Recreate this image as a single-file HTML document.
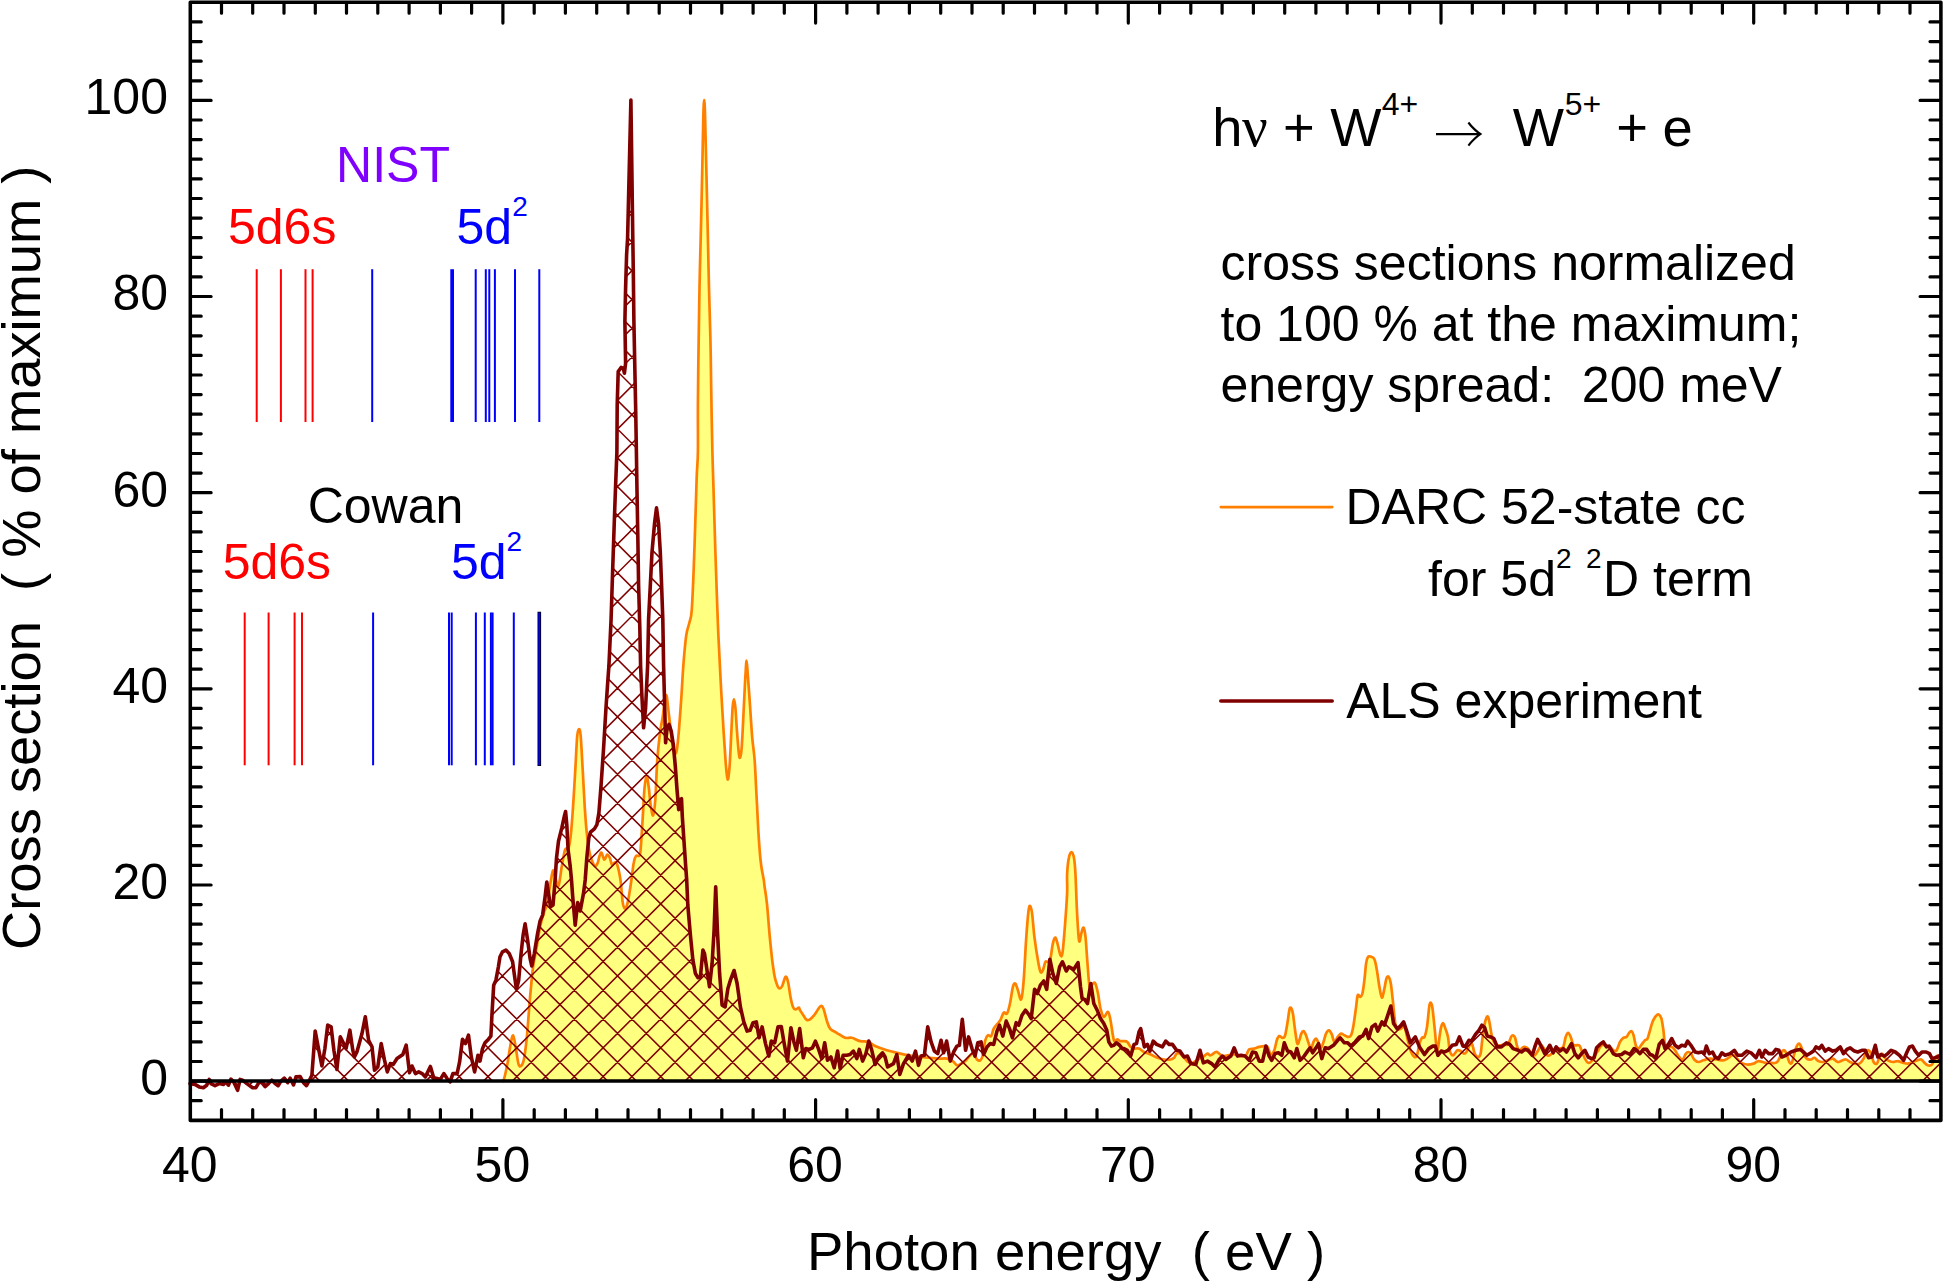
<!DOCTYPE html>
<html><head><meta charset="utf-8"><title>Photoionization cross section</title>
<style>html,body{margin:0;padding:0;background:#fff}svg{display:block}text{font-family:"Liberation Sans",Arial,Helvetica,sans-serif}.sym{font-family:"Liberation Serif","DejaVu Serif",serif}</style></head><body>
<svg width="1943" height="1282" viewBox="0 0 1943 1282">
<rect width="1943" height="1282" fill="#fff"/>
<path d="M503.4 1081.2C503.7 1080.2 504.3 1078.2 505 1075.3C505.7 1072.4 506.6 1068.3 507.5 1063.6C508.4 1058.9 509.2 1051.6 510.1 1046.9C511 1042.2 512.1 1035 513.1 1035.3C514.1 1035.6 515 1043.9 515.9 1048.6C516.8 1053.3 517.6 1060.7 518.4 1063.6C519.2 1066.5 520 1066.6 520.9 1066.1C521.8 1065.5 522.7 1064.9 523.7 1060.3C524.7 1055.7 525.6 1049.2 526.7 1038.6C527.8 1028 529 1008.9 530.1 996.9C531.2 984.9 532.1 974.3 533.1 966.8C534.1 959.3 535 956.8 535.9 951.8C536.8 946.8 537.6 941.5 538.4 936.8C539.2 932.1 539.9 927.6 540.9 923.4C541.9 919.2 543.3 914.8 544.3 911.7C545.3 908.6 546 908.6 546.8 905C547.6 901.4 548.6 894.2 549.3 890C550 885.8 550.4 883.2 551 880C551.6 876.8 552.3 871.1 553 870.5C553.7 869.9 554.2 873.9 555.1 876.4C556 878.9 557.4 887.5 558.5 885.8C559.6 884.1 560.7 872.3 561.8 866.3C562.9 860.3 564 852.6 565.1 849.6C566.2 846.6 567.5 850.8 568.5 848C569.5 845.2 570.2 841 571 832.9C571.8 824.8 572.8 810.7 573.5 799.6C574.2 788.5 574.9 776.8 575.5 766.2C576.1 755.6 576.6 742.3 577.2 736.1C577.8 729.9 578.4 729.1 579 729.1C579.6 729.1 580.1 729.4 580.7 736.1C581.3 742.8 582 757.5 582.7 769.5C583.4 781.5 584.1 797.3 584.8 807.9C585.5 818.5 586 825.7 586.8 832.9C587.5 840.1 588.4 846.7 589.3 851.3C590.1 855.9 590.9 858 591.9 860.5C592.9 863 594.2 865.9 595.2 866.3C596.2 866.7 597 864.7 597.7 863C598.4 861.3 598.8 858 599.4 856.3C600 854.6 600.7 852 601.5 852.6C602.3 853.2 603.4 859.4 604.4 859.7C605.4 860 606.3 854.9 607.2 854.6C608.1 854.3 609.1 856.3 609.9 858C610.7 859.7 611.1 863.9 611.9 864.7C612.6 865.5 613.6 862.9 614.4 862.7C615.2 862.6 615.9 861 616.9 863.8C617.9 866.6 619.4 873 620.4 879.3C621.4 885.6 621.9 896.7 622.6 901.6C623.3 906.5 624 908 624.8 908.5C625.5 909 626.4 907.4 627.1 904.9C627.9 902.4 628.6 898.1 629.3 893.8C630 889.5 630.8 884.5 631.5 879.3C632.2 874.1 633 866.4 633.8 862.5C634.5 858.6 635.1 857.1 636 856C636.9 854.9 638.5 856.7 639.3 855.6C640.1 854.5 640 856.2 640.6 849.6C641.2 843 642.2 826.3 642.8 816.3C643.4 806.3 643.8 796.2 644.4 789.5C645 782.8 645.9 776.8 646.6 776.2C647.3 775.7 647.9 781.5 648.6 786.2C649.3 790.9 649.9 799.7 650.6 804.6C651.4 809.5 652.3 816.2 653.1 815.4C653.9 814.6 654.6 808.9 655.3 799.6C656 790.3 656.5 770.6 657.3 759.5C658.1 748.4 659.1 740 660 732.8C660.9 725.6 662 721.7 662.8 716.1C663.6 710.5 664.4 702.8 665 699.4C665.6 696 666.1 694 666.6 695.7C667.1 697.4 667.7 704.3 668.3 709.4C668.9 714.5 669.5 720 670.3 726.1C671 732.2 671.8 741.7 672.8 746.1C673.8 750.5 675.2 755 676.2 752.8C677.2 750.6 677.9 741.7 678.7 732.8C679.5 723.9 680.4 710.5 681.2 699.4C682 688.3 682.5 676.6 683.3 666C684.1 655.4 685.2 642.9 686.2 635.6C687.2 628.3 688.6 626.5 689.5 622.3C690.4 618.1 691 619.5 691.7 610.6C692.4 601.7 693.1 584.2 693.7 568.9C694.3 553.6 694.9 534.1 695.4 518.8C695.9 503.5 696.3 488.1 696.7 477C697.1 465.9 697.7 464 697.9 452C698.1 440 697.8 423.9 697.9 404.9C698 385.9 698.4 357.7 698.7 338.2C699 318.7 699.2 304.8 699.5 288.1C699.8 271.4 700.2 258.1 700.7 238C701.2 217.9 701.9 187.5 702.3 167.4C702.7 147.3 703 128.7 703.3 117.5C703.6 106.3 703.9 100 704.2 100C704.5 100 704.8 106.3 705.1 117.5C705.5 128.7 705.8 147.3 706.3 167.4C706.8 187.5 707.4 217.9 707.9 238C708.4 258.1 708.6 271.4 709 288.1C709.4 304.8 710 321.5 710.4 338.2C710.8 354.9 710.9 369.3 711.2 388.3C711.5 407.3 712 435.8 712.4 452C712.8 468.2 712.9 468.7 713.4 485.4C713.9 502.1 714.8 532.7 715.4 552.2C716 571.7 716.6 588.4 717.1 602.3C717.6 616.2 717.9 625 718.4 635.6C718.9 646.2 719.4 656.8 719.9 666C720.4 675.2 720.6 679.9 721.2 691C721.8 702.1 723 720.8 723.7 732.8C724.5 744.8 725.1 755 725.7 762.8C726.4 770.6 727 778.9 727.6 779.5C728.2 780.1 729 774 729.6 766.2C730.2 758.4 730.8 742.5 731.3 732.8C731.8 723 732.2 713.3 732.6 707.7C733 702.1 733.4 699.4 733.9 699.4C734.4 699.4 734.9 702.1 735.4 707.7C735.9 713.3 736.5 725.3 737.1 732.8C737.7 740.3 738.3 748.7 738.8 752.8C739.3 756.9 739.6 758.6 740.1 757.5C740.6 756.4 741.2 754.4 741.8 746.1C742.4 737.8 743.2 719.4 743.8 707.7C744.4 696 744.9 683.8 745.4 676C745.9 668.2 746.2 660.7 746.6 660.7C747 660.7 747.4 669.5 747.9 676C748.4 682.5 748.9 689.4 749.6 699.4C750.3 709.4 751.3 726.1 752.1 736.1C752.9 746.1 753.9 750.3 754.6 759.5C755.3 768.7 755.7 780.4 756.3 791.2C756.9 802.1 757.5 814.9 758 824.6C758.5 834.3 759.1 842.7 759.6 849.6C760.1 856.5 760.6 861.2 761.3 866.3C762 871.4 763.2 876.6 763.8 880C764.3 883.4 764 882.5 764.6 886.7C765.2 890.9 766.3 896.9 767.1 905C767.9 913.1 768.8 925.9 769.6 935.1C770.5 944.3 771.4 953.2 772.2 960.1C773.1 967 773.9 972.6 774.7 976.8C775.5 981 776.4 983.2 777.2 985.2C778 987.2 778.9 988.4 779.7 988.5C780.5 988.6 781.2 988 782.2 986C783.2 984 784.5 977.5 785.5 976.8C786.5 976.1 787.2 978.4 788 981.8C788.8 985.1 789.7 992.7 790.5 996.9C791.3 1001.1 792.2 1004.8 793 1006.9C793.8 1009 794.5 1009.3 795.5 1009.4C796.5 1009.5 798.1 1007.6 798.9 1007.7C799.6 1007.8 799.3 1009 800 1010.2C800.7 1011.5 802.2 1013.6 803.3 1015.2C804.4 1016.8 805.6 1019.2 806.7 1019.9C807.8 1020.6 808.8 1020.2 810 1019.4C811.2 1018.6 813 1016.7 814.2 1015.2C815.5 1013.7 816.4 1011.7 817.5 1010.2C818.6 1008.7 819.9 1006.3 820.9 1006C821.9 1005.7 822.4 1006.1 823.4 1008.5C824.4 1010.9 825.6 1016.9 826.7 1020.2C827.8 1023.6 828.4 1026.5 830.1 1028.6C831.8 1030.7 834.2 1031.3 836.7 1032.8C839.2 1034.3 842.6 1037 845.1 1037.8C847.6 1038.6 849.3 1037.2 851.8 1037.8C854.3 1038.3 857.3 1040.4 860.1 1041.1C862.9 1041.8 865.9 1041.1 868.4 1041.9C870.9 1042.7 872 1044.7 875.1 1046.1C878.2 1047.5 883.2 1049.2 886.8 1050.3C890.4 1051.4 893.2 1052 896.8 1052.8C900.4 1053.6 904.6 1054.6 908.5 1055.3C912.4 1056 916.6 1056.6 920.2 1057C923.8 1057.4 927.1 1057.5 930.2 1057.8C933.3 1058.1 935.8 1058.5 938.6 1058.6C941.4 1058.7 944.5 1058.2 946.9 1058.6C949.3 1059 951.1 1060 952.8 1061.1C954.5 1062.2 955.5 1064.9 956.9 1065.3C958.3 1065.7 959.7 1064.3 961.1 1063.6C962.5 1062.9 963.8 1062.5 965.3 1061.1C966.8 1059.7 968.9 1056.5 970.3 1055.3C971.7 1054 972.5 1052.9 973.6 1053.6C974.7 1054.3 975.9 1058.4 977 1059.5C978.1 1060.6 979.3 1061 980.3 1060.3C981.3 1059.6 982 1058.6 982.8 1055.3C983.6 1052 984.5 1043.6 985.3 1040.3C986.1 1037 986.8 1036 987.8 1035.3C988.8 1034.6 990.2 1037.2 991.2 1036.1C992.2 1035 992.7 1030.5 993.7 1028.6C994.7 1026.6 995.9 1025.8 997 1024.4C998.1 1023 999.2 1022.2 1000.3 1020.2C1001.4 1018.2 1002.6 1013.8 1003.7 1012.7C1004.8 1011.6 1006 1015.1 1007 1013.6C1008 1012.1 1009 1008 1010 1003.5C1011 999 1012 990.1 1012.9 986.8C1013.8 983.5 1014.6 982.9 1015.4 983.5C1016.2 984.1 1016.9 987.6 1017.9 990.2C1018.9 992.9 1020.2 1001.1 1021.2 999.4C1022.2 997.7 1022.9 990.4 1023.7 980.2C1024.5 970 1025.4 949.8 1026.2 938.4C1027 927 1027.8 917.1 1028.4 911.7C1029.1 906.3 1029.5 905.6 1030.1 905.9C1030.7 906.2 1031.3 908 1032.1 913.4C1032.8 918.8 1033.6 930.6 1034.6 938.4C1035.6 946.2 1036.9 954.5 1037.9 960.1C1038.9 965.7 1039.6 970.1 1040.4 971.8C1041.2 973.5 1042.1 971.9 1042.9 970.2C1043.7 968.5 1044.6 963.2 1045.4 961.8C1046.2 960.4 1047.1 962.3 1047.9 961.8C1048.7 961.2 1049.6 961.6 1050.4 958.5C1051.2 955.4 1052.1 946.9 1052.9 943.4C1053.7 939.9 1054.6 937.3 1055.4 937.6C1056.2 937.9 1057.1 942.2 1057.9 945.1C1058.7 948 1059.7 953.7 1060.4 955.1C1061.2 956.5 1061.7 957.7 1062.4 953.5C1063.1 949.3 1063.8 940.1 1064.6 930.1C1065.4 920.1 1066.7 902.6 1067.1 893.4C1067.5 884.2 1066.8 880.7 1067.1 874.8C1067.4 868.9 1068 861.9 1068.8 858.1C1069.5 854.3 1070.7 852 1071.6 852C1072.5 852 1073.3 854.3 1074 858.1C1074.7 861.9 1075 865.6 1075.5 874.8C1076 884 1076.5 902.4 1077.1 913.4C1077.7 924.4 1078.4 937.6 1079.1 940.9C1079.8 944.2 1080.6 935.6 1081.3 933.4C1082 931.2 1082.8 927 1083.5 927.6C1084.2 928.2 1084.8 930.8 1085.5 936.8C1086.2 942.8 1086.8 955.2 1087.5 963.5C1088.2 971.8 1088.8 983.3 1089.6 986.8C1090.4 990.3 1091.3 984.9 1092.2 984.3C1093.1 983.7 1094.2 981.7 1095.2 983.2C1096.2 984.7 1097.1 989.3 1098 993.5C1098.9 997.7 1099.5 1004.6 1100.5 1008.5C1101.5 1012.4 1102.5 1016.3 1103.8 1016.9C1105 1017.5 1106.9 1011.3 1108 1011.9C1109.1 1012.5 1109.5 1015.5 1110.5 1020.2C1111.5 1024.9 1112.8 1037.1 1113.9 1040.3C1115 1043.5 1116.1 1039.3 1117.2 1039.4C1118.3 1039.5 1119.4 1040.8 1120.5 1041.1C1121.6 1041.4 1122.9 1041 1124 1041.1C1125.1 1041.2 1126.2 1040.9 1127.3 1041.9C1128.4 1042.9 1129.6 1045.8 1130.7 1046.9C1131.8 1048 1132.6 1048.3 1134 1048.6C1135.4 1048.9 1137.3 1048 1139 1048.6C1140.7 1049.2 1142 1051 1144 1052C1146 1053 1148.5 1053.5 1150.7 1054.5C1152.9 1055.5 1155.2 1057 1157.4 1057.8C1159.6 1058.6 1161.9 1059.2 1164.1 1059.5C1166.3 1059.8 1169 1059.8 1170.7 1059.5C1172.4 1059.2 1173.1 1058.8 1174.1 1057.8C1175.1 1056.8 1175.6 1054.3 1176.6 1053.6C1177.6 1052.9 1178.7 1052.9 1179.9 1053.6C1181.2 1054.3 1182.7 1056.4 1184.1 1057.8C1185.5 1059.2 1186.9 1061.2 1188.3 1062C1189.7 1062.8 1191 1063.1 1192.4 1062.8C1193.8 1062.5 1195.2 1061.1 1196.6 1060.3C1198 1059.5 1199.5 1058.5 1200.8 1057.8C1202 1057.1 1203 1056.8 1204.1 1056.1C1205.2 1055.4 1206.4 1053.7 1207.5 1053.6C1208.6 1053.5 1209.4 1055.6 1210.8 1055.3C1212.2 1055 1214.4 1052.3 1215.8 1052C1217.2 1051.7 1218.1 1052.9 1219.2 1053.6C1220.3 1054.3 1221.1 1055.8 1222.5 1056.1C1223.9 1056.4 1225.5 1055.6 1227.5 1055.3C1229.5 1055 1232 1054.4 1234.2 1054.5C1236.4 1054.6 1239 1056 1240.9 1056.1C1242.9 1056.2 1244.5 1056.4 1245.9 1055.3C1247.3 1054.2 1247.8 1050.5 1249.2 1049.4C1250.6 1048.3 1252.5 1049 1254.2 1048.6C1255.9 1048.2 1257.5 1047.3 1259.2 1046.9C1260.9 1046.5 1262.8 1046.1 1264.2 1046.1C1265.6 1046.1 1266.5 1045.5 1267.6 1046.9C1268.7 1048.3 1269.8 1053.9 1270.9 1054.5C1272 1055.1 1273.3 1052.7 1274.3 1050.3C1275.3 1047.9 1276 1042.7 1276.8 1040.3C1277.6 1037.9 1278.3 1036.5 1279.3 1036.1C1280.3 1035.7 1281.6 1037.9 1282.6 1037.8C1283.6 1037.7 1284.3 1038 1285.1 1035.3C1285.9 1032.6 1286.9 1026.1 1287.6 1021.9C1288.3 1017.7 1288.8 1012.6 1289.3 1010.2C1289.8 1007.8 1290.3 1007.1 1290.9 1007.7C1291.5 1008.3 1292.2 1009.8 1292.9 1013.6C1293.6 1017.4 1294.4 1025.3 1295.1 1030.3C1295.8 1035.3 1296.6 1041.9 1297.3 1043.6C1298 1045.3 1298.6 1042 1299.3 1040.3C1300 1038.6 1300.6 1035.1 1301.3 1033.6C1302 1032.1 1302.7 1030.8 1303.5 1031.1C1304.3 1031.4 1305.2 1033.3 1306 1035.3C1306.8 1037.2 1307.7 1040.6 1308.5 1042.8C1309.3 1045 1310.2 1048.8 1311 1048.6C1311.8 1048.4 1312.7 1043.6 1313.5 1041.9C1314.3 1040.2 1315.2 1038.4 1316 1038.6C1316.8 1038.8 1317.7 1041.3 1318.5 1042.8C1319.3 1044.3 1320.2 1047.9 1321 1047.8C1321.8 1047.7 1322.7 1044.3 1323.5 1041.9C1324.3 1039.5 1325.1 1035.5 1326 1033.6C1326.9 1031.7 1328 1030.2 1329 1030.3C1330 1030.4 1330.9 1032.5 1331.8 1034.4C1332.7 1036.3 1333.4 1041.5 1334.4 1041.9C1335.4 1042.3 1336.6 1038.3 1337.7 1036.9C1338.8 1035.5 1339.9 1033.9 1341 1033.6C1342.1 1033.3 1343.3 1034.8 1344.4 1035.3C1345.5 1035.8 1346.6 1036.9 1347.7 1036.9C1348.8 1036.9 1350 1037.2 1351 1035.3C1352 1033.3 1352.7 1029.9 1353.5 1025.2C1354.3 1020.5 1355.4 1011.9 1356.1 1006.9C1356.8 1001.9 1357 996.9 1357.7 995.2C1358.4 993.5 1359.4 997.2 1360.2 996.9C1361 996.6 1361.7 996.3 1362.4 993.5C1363.1 990.7 1363.8 985.2 1364.4 980.2C1365 975.2 1365.5 967.4 1366.1 963.5C1366.7 959.6 1367.3 957.9 1368.1 956.8C1368.9 955.7 1370 956.4 1371.1 956.8C1372.1 957.2 1373.4 957.1 1374.4 959.3C1375.4 961.5 1376.1 965.6 1376.9 970.2C1377.7 974.8 1378.6 982.2 1379.4 986.8C1380.2 991.4 1381.1 997.4 1381.9 997.7C1382.7 998 1383.7 991.7 1384.4 988.5C1385.2 985.3 1385.7 980.5 1386.4 978.5C1387.1 976.5 1387.9 976 1388.6 976.8C1389.3 977.6 1390.1 979.6 1390.8 983.5C1391.5 987.4 1392 993.5 1392.8 1000.2C1393.5 1006.9 1394.5 1018.7 1395.3 1023.6C1396.1 1028.5 1396.8 1028.6 1397.8 1029.4C1398.8 1030.2 1400 1029 1401.1 1028.6C1402.2 1028.2 1403.4 1025 1404.5 1026.9C1405.6 1028.9 1406.7 1036.1 1407.8 1040.3C1408.9 1044.5 1410 1049.2 1411.1 1052C1412.2 1054.8 1413.5 1056.5 1414.5 1057C1415.5 1057.5 1416.2 1057.5 1417 1055.3C1417.8 1053.1 1418.7 1046.5 1419.5 1043.6C1420.3 1040.7 1421.2 1038.9 1422 1037.8C1422.8 1036.7 1423.7 1038.7 1424.5 1036.9C1425.3 1035.1 1426.2 1031.9 1427 1026.9C1427.8 1021.9 1428.6 1010.9 1429.2 1006.9C1429.8 1002.9 1430.2 1002.4 1430.8 1002.7C1431.3 1003 1431.9 1004.5 1432.5 1008.5C1433.1 1012.5 1433.8 1020.5 1434.5 1026.9C1435.2 1033.3 1435.9 1043.3 1436.5 1046.9C1437.1 1050.5 1437.4 1050.3 1437.9 1048.6C1438.4 1046.9 1439 1040.5 1439.5 1036.9C1440 1033.3 1440.6 1029.2 1441.2 1026.9C1441.8 1024.6 1442.5 1022.9 1443.2 1023.2C1443.9 1023.5 1444.6 1026.3 1445.4 1028.6C1446.2 1030.9 1447.3 1033.3 1448 1036.9C1448.7 1040.5 1448.9 1047.2 1449.7 1050.3C1450.5 1053.4 1451.8 1055.3 1453 1055.3C1454.2 1055.3 1456 1051 1457.2 1050.3C1458.5 1049.6 1459.4 1050.5 1460.5 1051.1C1461.6 1051.6 1462.9 1053.4 1463.9 1053.6C1464.9 1053.8 1465.4 1053.4 1466.4 1052C1467.4 1050.6 1468.7 1046.6 1469.7 1045.3C1470.7 1044 1471.4 1043 1472.2 1044.4C1473 1045.8 1473.7 1051.5 1474.7 1053.6C1475.7 1055.7 1477.1 1057 1478.1 1057C1479.1 1057 1479.9 1056.4 1480.6 1053.6C1481.3 1050.8 1481.6 1045 1482.2 1040.3C1482.8 1035.6 1483.7 1029 1484.4 1025.2C1485.1 1021.4 1485.8 1019.1 1486.4 1017.7C1487 1016.3 1487.5 1015.9 1488.1 1016.9C1488.6 1017.9 1489.1 1020.5 1489.7 1023.6C1490.3 1026.7 1491 1032.2 1491.7 1035.3C1492.4 1038.3 1493 1040.2 1493.9 1041.9C1494.8 1043.6 1496.1 1044.7 1497.2 1045.3C1498.3 1045.9 1499.3 1045.4 1500.6 1045.3C1501.9 1045.2 1503.5 1044.6 1504.8 1044.4C1506 1044.2 1507 1045.7 1508.1 1044.4C1509.1 1043.2 1510.3 1038.4 1511.1 1036.9C1511.9 1035.4 1512.4 1035.2 1513.1 1035.3C1513.8 1035.4 1514.4 1035.9 1515.1 1037.8C1515.8 1039.7 1516.5 1044.8 1517.3 1046.9C1518.1 1049 1519 1050.2 1519.8 1050.3C1520.6 1050.4 1521.5 1048.4 1522.3 1047.8C1523.1 1047.2 1523.8 1046.8 1524.8 1046.9C1525.8 1047 1527 1047.5 1528.1 1048.6C1529.2 1049.7 1530.4 1052.5 1531.5 1053.6C1532.6 1054.7 1533.7 1055.8 1534.8 1055.3C1535.9 1054.8 1537.1 1052 1538.2 1050.3C1539.3 1048.6 1540.2 1045.6 1541.2 1045.3C1542.2 1045 1543 1046.9 1544 1048.6C1545 1050.3 1546.2 1054.3 1547.3 1055.3C1548.4 1056.3 1549.5 1055.3 1550.7 1054.5C1552 1053.7 1553.4 1051.3 1554.8 1050.3C1556.2 1049.3 1557.6 1049.2 1559 1048.6C1560.4 1048 1562.1 1048.9 1563.2 1046.9C1564.3 1045 1564.9 1039.2 1565.7 1036.9C1566.5 1034.6 1567.4 1032.8 1568.2 1032.8C1569 1032.8 1569.9 1035 1570.7 1036.9C1571.5 1038.8 1572.4 1043 1573.2 1044.4C1574 1045.8 1574.7 1045.2 1575.7 1045.3C1576.7 1045.4 1578.1 1044.5 1579.1 1045.3C1580.1 1046.1 1580.6 1048.1 1581.6 1050.3C1582.6 1052.5 1583.8 1056.5 1584.9 1058.6C1586 1060.7 1587.1 1062.4 1588.2 1062.8C1589.3 1063.2 1590.5 1062.3 1591.6 1061.1C1592.7 1059.8 1593.8 1057.1 1594.9 1055.3C1596 1053.5 1597.2 1052 1598.3 1050.3C1599.4 1048.6 1600.3 1046.1 1601.6 1045.3C1602.8 1044.5 1604.4 1045 1605.8 1045.3C1607.2 1045.6 1608.7 1046.1 1609.9 1046.9C1611.2 1047.7 1612.2 1049.7 1613.3 1050.3C1614.4 1050.9 1615.5 1051.7 1616.6 1050.3C1617.7 1048.9 1618.9 1044 1620 1041.9C1621.1 1039.8 1622.2 1038.6 1623.3 1037.8C1624.4 1037 1625.6 1037.7 1626.6 1036.9C1627.6 1036.1 1628.3 1033.8 1629.1 1032.8C1629.9 1031.8 1630.8 1030.7 1631.6 1031.1C1632.3 1031.5 1632.9 1032.9 1633.6 1035.3C1634.3 1037.7 1635 1043.1 1635.8 1045.3C1636.6 1047.5 1637.3 1048.8 1638.3 1048.6C1639.3 1048.4 1640.6 1045.8 1641.7 1044.4C1642.8 1043 1644 1041.3 1645 1040.3C1646 1039.3 1646.7 1040.3 1647.5 1038.6C1648.3 1036.9 1649.2 1033.1 1650 1030.3C1650.8 1027.5 1651.5 1024.3 1652.5 1021.9C1653.5 1019.5 1654.8 1017.4 1655.8 1016.1C1656.8 1014.9 1657.8 1014 1658.7 1014.4C1659.6 1014.8 1660.6 1016 1661.4 1018.6C1662.2 1021.2 1662.8 1026.1 1663.4 1030.3C1664 1034.5 1664.2 1040.8 1665 1043.6C1665.8 1046.4 1667.3 1046.4 1668.4 1046.9C1669.5 1047.5 1670.6 1046.3 1671.7 1046.9C1672.8 1047.5 1673.8 1048.6 1675 1050.3C1676.2 1052 1677.9 1055.5 1679.2 1057C1680.5 1058.5 1681.5 1060.1 1682.6 1059.5C1683.7 1058.9 1684.9 1054.8 1685.9 1053.6C1686.9 1052.3 1687.6 1052 1688.4 1052C1689.2 1052 1689.9 1052.3 1690.9 1053.6C1691.9 1054.8 1693 1058.1 1694.2 1059.5C1695.5 1060.9 1696.9 1061.9 1698.4 1062C1699.9 1062.1 1701.5 1060.9 1703.4 1060.3C1705.4 1059.7 1707.9 1058.7 1710.1 1058.6C1712.3 1058.5 1714.6 1059.2 1716.8 1059.5C1719 1059.8 1721.5 1060.6 1723.5 1060.3C1725.5 1060 1727.1 1058.6 1728.5 1057.8C1729.9 1057 1730.7 1055.6 1731.8 1055.3C1732.9 1055 1733.7 1055 1735.1 1056.1C1736.5 1057.2 1738.2 1060.6 1740.2 1062C1742.2 1063.4 1744.6 1064.2 1746.8 1064.5C1749 1064.8 1751.5 1064.2 1753.5 1063.6C1755.5 1063 1756.5 1061.2 1758.5 1061.1C1760.5 1061 1763.4 1062.5 1765.2 1062.8C1767 1063.1 1767.5 1062.8 1769.3 1062.8C1771.1 1062.8 1774.2 1063.5 1775.9 1062.8C1777.6 1062.1 1778.3 1060.4 1779.3 1058.6C1780.3 1056.8 1781 1053.4 1781.8 1052C1782.6 1050.6 1783.5 1049.9 1784.3 1050.3C1785.1 1050.7 1786 1052.5 1786.8 1054.5C1787.6 1056.5 1788.5 1060.6 1789.3 1062C1790.1 1063.4 1791 1064.2 1791.8 1062.8C1792.6 1061.4 1793.5 1056.4 1794.3 1053.6C1795.1 1050.8 1796 1047.8 1796.8 1046.1C1797.6 1044.4 1798.2 1043.5 1799 1043.6C1799.8 1043.7 1800.5 1045.2 1801.3 1046.9C1802 1048.6 1802.6 1051.6 1803.5 1053.6C1804.4 1055.5 1805.5 1057.6 1806.8 1058.6C1808 1059.6 1809.8 1059.6 1811 1059.5C1812.2 1059.4 1813 1057.5 1814.3 1057.8C1815.5 1058.1 1817.1 1060.4 1818.5 1061.1C1819.9 1061.8 1821.2 1062.1 1822.7 1062C1824.2 1061.9 1826 1060.9 1827.7 1060.3C1829.4 1059.7 1831 1058.3 1832.7 1058.6C1834.4 1058.9 1836 1061.7 1837.7 1062C1839.4 1062.3 1841.3 1060.7 1842.7 1060.3C1844.1 1059.9 1844.8 1059.2 1846 1059.5C1847.2 1059.8 1848.8 1061.3 1850.2 1062C1851.6 1062.7 1852.9 1063.3 1854.4 1063.6C1855.9 1063.9 1857.9 1064.4 1859.4 1063.6C1860.9 1062.8 1862.5 1060.5 1863.6 1058.6C1864.7 1056.7 1865.3 1053.4 1866.1 1052C1866.9 1050.6 1867.8 1050 1868.6 1050.3C1869.4 1050.6 1870.3 1051.6 1871.1 1053.6C1871.9 1055.5 1872.6 1060.3 1873.6 1062C1874.6 1063.7 1875.9 1064.4 1876.9 1063.6C1877.9 1062.8 1878.6 1058.7 1879.4 1057C1880.2 1055.3 1881.1 1053.6 1881.9 1053.6C1882.7 1053.6 1883.4 1055.9 1884.4 1057C1885.4 1058.1 1886.4 1059.5 1887.8 1060.3C1889.2 1061.1 1891.1 1061.9 1892.8 1062C1894.5 1062.1 1896.1 1061 1897.8 1061.1C1899.5 1061.2 1901.1 1062.4 1902.8 1062.8C1904.5 1063.2 1906.1 1063.7 1907.8 1063.6C1909.5 1063.5 1911.1 1062.5 1912.8 1062C1914.5 1061.5 1916.4 1060.7 1917.8 1060.3C1919.2 1059.9 1920.1 1059.1 1921.2 1059.5C1922.3 1059.9 1923.4 1061.8 1924.5 1062.8C1925.6 1063.8 1926.5 1065 1927.8 1065.3C1929 1065.6 1930.7 1065.9 1932 1064.5C1933.3 1063.1 1934.3 1058.5 1935.4 1057C1936.5 1055.5 1938.2 1055.6 1938.7 1055.3L1940.9 1055.3L1940.9 1081.1L503.4 1081.1Z" fill="#ffff80" stroke="none"/>
<path d="M503.4 1081.2C503.7 1080.2 504.3 1078.2 505 1075.3C505.7 1072.4 506.6 1068.3 507.5 1063.6C508.4 1058.9 509.2 1051.6 510.1 1046.9C511 1042.2 512.1 1035 513.1 1035.3C514.1 1035.6 515 1043.9 515.9 1048.6C516.8 1053.3 517.6 1060.7 518.4 1063.6C519.2 1066.5 520 1066.6 520.9 1066.1C521.8 1065.5 522.7 1064.9 523.7 1060.3C524.7 1055.7 525.6 1049.2 526.7 1038.6C527.8 1028 529 1008.9 530.1 996.9C531.2 984.9 532.1 974.3 533.1 966.8C534.1 959.3 535 956.8 535.9 951.8C536.8 946.8 537.6 941.5 538.4 936.8C539.2 932.1 539.9 927.6 540.9 923.4C541.9 919.2 543.3 914.8 544.3 911.7C545.3 908.6 546 908.6 546.8 905C547.6 901.4 548.6 894.2 549.3 890C550 885.8 550.4 883.2 551 880C551.6 876.8 552.3 871.1 553 870.5C553.7 869.9 554.2 873.9 555.1 876.4C556 878.9 557.4 887.5 558.5 885.8C559.6 884.1 560.7 872.3 561.8 866.3C562.9 860.3 564 852.6 565.1 849.6C566.2 846.6 567.5 850.8 568.5 848C569.5 845.2 570.2 841 571 832.9C571.8 824.8 572.8 810.7 573.5 799.6C574.2 788.5 574.9 776.8 575.5 766.2C576.1 755.6 576.6 742.3 577.2 736.1C577.8 729.9 578.4 729.1 579 729.1C579.6 729.1 580.1 729.4 580.7 736.1C581.3 742.8 582 757.5 582.7 769.5C583.4 781.5 584.1 797.3 584.8 807.9C585.5 818.5 586 825.7 586.8 832.9C587.5 840.1 588.4 846.7 589.3 851.3C590.1 855.9 590.9 858 591.9 860.5C592.9 863 594.2 865.9 595.2 866.3C596.2 866.7 597 864.7 597.7 863C598.4 861.3 598.8 858 599.4 856.3C600 854.6 600.7 852 601.5 852.6C602.3 853.2 603.4 859.4 604.4 859.7C605.4 860 606.3 854.9 607.2 854.6C608.1 854.3 609.1 856.3 609.9 858C610.7 859.7 611.1 863.9 611.9 864.7C612.6 865.5 613.6 862.9 614.4 862.7C615.2 862.6 615.9 861 616.9 863.8C617.9 866.6 619.4 873 620.4 879.3C621.4 885.6 621.9 896.7 622.6 901.6C623.3 906.5 624 908 624.8 908.5C625.5 909 626.4 907.4 627.1 904.9C627.9 902.4 628.6 898.1 629.3 893.8C630 889.5 630.8 884.5 631.5 879.3C632.2 874.1 633 866.4 633.8 862.5C634.5 858.6 635.1 857.1 636 856C636.9 854.9 638.5 856.7 639.3 855.6C640.1 854.5 640 856.2 640.6 849.6C641.2 843 642.2 826.3 642.8 816.3C643.4 806.3 643.8 796.2 644.4 789.5C645 782.8 645.9 776.8 646.6 776.2C647.3 775.7 647.9 781.5 648.6 786.2C649.3 790.9 649.9 799.7 650.6 804.6C651.4 809.5 652.3 816.2 653.1 815.4C653.9 814.6 654.6 808.9 655.3 799.6C656 790.3 656.5 770.6 657.3 759.5C658.1 748.4 659.1 740 660 732.8C660.9 725.6 662 721.7 662.8 716.1C663.6 710.5 664.4 702.8 665 699.4C665.6 696 666.1 694 666.6 695.7C667.1 697.4 667.7 704.3 668.3 709.4C668.9 714.5 669.5 720 670.3 726.1C671 732.2 671.8 741.7 672.8 746.1C673.8 750.5 675.2 755 676.2 752.8C677.2 750.6 677.9 741.7 678.7 732.8C679.5 723.9 680.4 710.5 681.2 699.4C682 688.3 682.5 676.6 683.3 666C684.1 655.4 685.2 642.9 686.2 635.6C687.2 628.3 688.6 626.5 689.5 622.3C690.4 618.1 691 619.5 691.7 610.6C692.4 601.7 693.1 584.2 693.7 568.9C694.3 553.6 694.9 534.1 695.4 518.8C695.9 503.5 696.3 488.1 696.7 477C697.1 465.9 697.7 464 697.9 452C698.1 440 697.8 423.9 697.9 404.9C698 385.9 698.4 357.7 698.7 338.2C699 318.7 699.2 304.8 699.5 288.1C699.8 271.4 700.2 258.1 700.7 238C701.2 217.9 701.9 187.5 702.3 167.4C702.7 147.3 703 128.7 703.3 117.5C703.6 106.3 703.9 100 704.2 100C704.5 100 704.8 106.3 705.1 117.5C705.5 128.7 705.8 147.3 706.3 167.4C706.8 187.5 707.4 217.9 707.9 238C708.4 258.1 708.6 271.4 709 288.1C709.4 304.8 710 321.5 710.4 338.2C710.8 354.9 710.9 369.3 711.2 388.3C711.5 407.3 712 435.8 712.4 452C712.8 468.2 712.9 468.7 713.4 485.4C713.9 502.1 714.8 532.7 715.4 552.2C716 571.7 716.6 588.4 717.1 602.3C717.6 616.2 717.9 625 718.4 635.6C718.9 646.2 719.4 656.8 719.9 666C720.4 675.2 720.6 679.9 721.2 691C721.8 702.1 723 720.8 723.7 732.8C724.5 744.8 725.1 755 725.7 762.8C726.4 770.6 727 778.9 727.6 779.5C728.2 780.1 729 774 729.6 766.2C730.2 758.4 730.8 742.5 731.3 732.8C731.8 723 732.2 713.3 732.6 707.7C733 702.1 733.4 699.4 733.9 699.4C734.4 699.4 734.9 702.1 735.4 707.7C735.9 713.3 736.5 725.3 737.1 732.8C737.7 740.3 738.3 748.7 738.8 752.8C739.3 756.9 739.6 758.6 740.1 757.5C740.6 756.4 741.2 754.4 741.8 746.1C742.4 737.8 743.2 719.4 743.8 707.7C744.4 696 744.9 683.8 745.4 676C745.9 668.2 746.2 660.7 746.6 660.7C747 660.7 747.4 669.5 747.9 676C748.4 682.5 748.9 689.4 749.6 699.4C750.3 709.4 751.3 726.1 752.1 736.1C752.9 746.1 753.9 750.3 754.6 759.5C755.3 768.7 755.7 780.4 756.3 791.2C756.9 802.1 757.5 814.9 758 824.6C758.5 834.3 759.1 842.7 759.6 849.6C760.1 856.5 760.6 861.2 761.3 866.3C762 871.4 763.2 876.6 763.8 880C764.3 883.4 764 882.5 764.6 886.7C765.2 890.9 766.3 896.9 767.1 905C767.9 913.1 768.8 925.9 769.6 935.1C770.5 944.3 771.4 953.2 772.2 960.1C773.1 967 773.9 972.6 774.7 976.8C775.5 981 776.4 983.2 777.2 985.2C778 987.2 778.9 988.4 779.7 988.5C780.5 988.6 781.2 988 782.2 986C783.2 984 784.5 977.5 785.5 976.8C786.5 976.1 787.2 978.4 788 981.8C788.8 985.1 789.7 992.7 790.5 996.9C791.3 1001.1 792.2 1004.8 793 1006.9C793.8 1009 794.5 1009.3 795.5 1009.4C796.5 1009.5 798.1 1007.6 798.9 1007.7C799.6 1007.8 799.3 1009 800 1010.2C800.7 1011.5 802.2 1013.6 803.3 1015.2C804.4 1016.8 805.6 1019.2 806.7 1019.9C807.8 1020.6 808.8 1020.2 810 1019.4C811.2 1018.6 813 1016.7 814.2 1015.2C815.5 1013.7 816.4 1011.7 817.5 1010.2C818.6 1008.7 819.9 1006.3 820.9 1006C821.9 1005.7 822.4 1006.1 823.4 1008.5C824.4 1010.9 825.6 1016.9 826.7 1020.2C827.8 1023.6 828.4 1026.5 830.1 1028.6C831.8 1030.7 834.2 1031.3 836.7 1032.8C839.2 1034.3 842.6 1037 845.1 1037.8C847.6 1038.6 849.3 1037.2 851.8 1037.8C854.3 1038.3 857.3 1040.4 860.1 1041.1C862.9 1041.8 865.9 1041.1 868.4 1041.9C870.9 1042.7 872 1044.7 875.1 1046.1C878.2 1047.5 883.2 1049.2 886.8 1050.3C890.4 1051.4 893.2 1052 896.8 1052.8C900.4 1053.6 904.6 1054.6 908.5 1055.3C912.4 1056 916.6 1056.6 920.2 1057C923.8 1057.4 927.1 1057.5 930.2 1057.8C933.3 1058.1 935.8 1058.5 938.6 1058.6C941.4 1058.7 944.5 1058.2 946.9 1058.6C949.3 1059 951.1 1060 952.8 1061.1C954.5 1062.2 955.5 1064.9 956.9 1065.3C958.3 1065.7 959.7 1064.3 961.1 1063.6C962.5 1062.9 963.8 1062.5 965.3 1061.1C966.8 1059.7 968.9 1056.5 970.3 1055.3C971.7 1054 972.5 1052.9 973.6 1053.6C974.7 1054.3 975.9 1058.4 977 1059.5C978.1 1060.6 979.3 1061 980.3 1060.3C981.3 1059.6 982 1058.6 982.8 1055.3C983.6 1052 984.5 1043.6 985.3 1040.3C986.1 1037 986.8 1036 987.8 1035.3C988.8 1034.6 990.2 1037.2 991.2 1036.1C992.2 1035 992.7 1030.5 993.7 1028.6C994.7 1026.6 995.9 1025.8 997 1024.4C998.1 1023 999.2 1022.2 1000.3 1020.2C1001.4 1018.2 1002.6 1013.8 1003.7 1012.7C1004.8 1011.6 1006 1015.1 1007 1013.6C1008 1012.1 1009 1008 1010 1003.5C1011 999 1012 990.1 1012.9 986.8C1013.8 983.5 1014.6 982.9 1015.4 983.5C1016.2 984.1 1016.9 987.6 1017.9 990.2C1018.9 992.9 1020.2 1001.1 1021.2 999.4C1022.2 997.7 1022.9 990.4 1023.7 980.2C1024.5 970 1025.4 949.8 1026.2 938.4C1027 927 1027.8 917.1 1028.4 911.7C1029.1 906.3 1029.5 905.6 1030.1 905.9C1030.7 906.2 1031.3 908 1032.1 913.4C1032.8 918.8 1033.6 930.6 1034.6 938.4C1035.6 946.2 1036.9 954.5 1037.9 960.1C1038.9 965.7 1039.6 970.1 1040.4 971.8C1041.2 973.5 1042.1 971.9 1042.9 970.2C1043.7 968.5 1044.6 963.2 1045.4 961.8C1046.2 960.4 1047.1 962.3 1047.9 961.8C1048.7 961.2 1049.6 961.6 1050.4 958.5C1051.2 955.4 1052.1 946.9 1052.9 943.4C1053.7 939.9 1054.6 937.3 1055.4 937.6C1056.2 937.9 1057.1 942.2 1057.9 945.1C1058.7 948 1059.7 953.7 1060.4 955.1C1061.2 956.5 1061.7 957.7 1062.4 953.5C1063.1 949.3 1063.8 940.1 1064.6 930.1C1065.4 920.1 1066.7 902.6 1067.1 893.4C1067.5 884.2 1066.8 880.7 1067.1 874.8C1067.4 868.9 1068 861.9 1068.8 858.1C1069.5 854.3 1070.7 852 1071.6 852C1072.5 852 1073.3 854.3 1074 858.1C1074.7 861.9 1075 865.6 1075.5 874.8C1076 884 1076.5 902.4 1077.1 913.4C1077.7 924.4 1078.4 937.6 1079.1 940.9C1079.8 944.2 1080.6 935.6 1081.3 933.4C1082 931.2 1082.8 927 1083.5 927.6C1084.2 928.2 1084.8 930.8 1085.5 936.8C1086.2 942.8 1086.8 955.2 1087.5 963.5C1088.2 971.8 1088.8 983.3 1089.6 986.8C1090.4 990.3 1091.3 984.9 1092.2 984.3C1093.1 983.7 1094.2 981.7 1095.2 983.2C1096.2 984.7 1097.1 989.3 1098 993.5C1098.9 997.7 1099.5 1004.6 1100.5 1008.5C1101.5 1012.4 1102.5 1016.3 1103.8 1016.9C1105 1017.5 1106.9 1011.3 1108 1011.9C1109.1 1012.5 1109.5 1015.5 1110.5 1020.2C1111.5 1024.9 1112.8 1037.1 1113.9 1040.3C1115 1043.5 1116.1 1039.3 1117.2 1039.4C1118.3 1039.5 1119.4 1040.8 1120.5 1041.1C1121.6 1041.4 1122.9 1041 1124 1041.1C1125.1 1041.2 1126.2 1040.9 1127.3 1041.9C1128.4 1042.9 1129.6 1045.8 1130.7 1046.9C1131.8 1048 1132.6 1048.3 1134 1048.6C1135.4 1048.9 1137.3 1048 1139 1048.6C1140.7 1049.2 1142 1051 1144 1052C1146 1053 1148.5 1053.5 1150.7 1054.5C1152.9 1055.5 1155.2 1057 1157.4 1057.8C1159.6 1058.6 1161.9 1059.2 1164.1 1059.5C1166.3 1059.8 1169 1059.8 1170.7 1059.5C1172.4 1059.2 1173.1 1058.8 1174.1 1057.8C1175.1 1056.8 1175.6 1054.3 1176.6 1053.6C1177.6 1052.9 1178.7 1052.9 1179.9 1053.6C1181.2 1054.3 1182.7 1056.4 1184.1 1057.8C1185.5 1059.2 1186.9 1061.2 1188.3 1062C1189.7 1062.8 1191 1063.1 1192.4 1062.8C1193.8 1062.5 1195.2 1061.1 1196.6 1060.3C1198 1059.5 1199.5 1058.5 1200.8 1057.8C1202 1057.1 1203 1056.8 1204.1 1056.1C1205.2 1055.4 1206.4 1053.7 1207.5 1053.6C1208.6 1053.5 1209.4 1055.6 1210.8 1055.3C1212.2 1055 1214.4 1052.3 1215.8 1052C1217.2 1051.7 1218.1 1052.9 1219.2 1053.6C1220.3 1054.3 1221.1 1055.8 1222.5 1056.1C1223.9 1056.4 1225.5 1055.6 1227.5 1055.3C1229.5 1055 1232 1054.4 1234.2 1054.5C1236.4 1054.6 1239 1056 1240.9 1056.1C1242.9 1056.2 1244.5 1056.4 1245.9 1055.3C1247.3 1054.2 1247.8 1050.5 1249.2 1049.4C1250.6 1048.3 1252.5 1049 1254.2 1048.6C1255.9 1048.2 1257.5 1047.3 1259.2 1046.9C1260.9 1046.5 1262.8 1046.1 1264.2 1046.1C1265.6 1046.1 1266.5 1045.5 1267.6 1046.9C1268.7 1048.3 1269.8 1053.9 1270.9 1054.5C1272 1055.1 1273.3 1052.7 1274.3 1050.3C1275.3 1047.9 1276 1042.7 1276.8 1040.3C1277.6 1037.9 1278.3 1036.5 1279.3 1036.1C1280.3 1035.7 1281.6 1037.9 1282.6 1037.8C1283.6 1037.7 1284.3 1038 1285.1 1035.3C1285.9 1032.6 1286.9 1026.1 1287.6 1021.9C1288.3 1017.7 1288.8 1012.6 1289.3 1010.2C1289.8 1007.8 1290.3 1007.1 1290.9 1007.7C1291.5 1008.3 1292.2 1009.8 1292.9 1013.6C1293.6 1017.4 1294.4 1025.3 1295.1 1030.3C1295.8 1035.3 1296.6 1041.9 1297.3 1043.6C1298 1045.3 1298.6 1042 1299.3 1040.3C1300 1038.6 1300.6 1035.1 1301.3 1033.6C1302 1032.1 1302.7 1030.8 1303.5 1031.1C1304.3 1031.4 1305.2 1033.3 1306 1035.3C1306.8 1037.2 1307.7 1040.6 1308.5 1042.8C1309.3 1045 1310.2 1048.8 1311 1048.6C1311.8 1048.4 1312.7 1043.6 1313.5 1041.9C1314.3 1040.2 1315.2 1038.4 1316 1038.6C1316.8 1038.8 1317.7 1041.3 1318.5 1042.8C1319.3 1044.3 1320.2 1047.9 1321 1047.8C1321.8 1047.7 1322.7 1044.3 1323.5 1041.9C1324.3 1039.5 1325.1 1035.5 1326 1033.6C1326.9 1031.7 1328 1030.2 1329 1030.3C1330 1030.4 1330.9 1032.5 1331.8 1034.4C1332.7 1036.3 1333.4 1041.5 1334.4 1041.9C1335.4 1042.3 1336.6 1038.3 1337.7 1036.9C1338.8 1035.5 1339.9 1033.9 1341 1033.6C1342.1 1033.3 1343.3 1034.8 1344.4 1035.3C1345.5 1035.8 1346.6 1036.9 1347.7 1036.9C1348.8 1036.9 1350 1037.2 1351 1035.3C1352 1033.3 1352.7 1029.9 1353.5 1025.2C1354.3 1020.5 1355.4 1011.9 1356.1 1006.9C1356.8 1001.9 1357 996.9 1357.7 995.2C1358.4 993.5 1359.4 997.2 1360.2 996.9C1361 996.6 1361.7 996.3 1362.4 993.5C1363.1 990.7 1363.8 985.2 1364.4 980.2C1365 975.2 1365.5 967.4 1366.1 963.5C1366.7 959.6 1367.3 957.9 1368.1 956.8C1368.9 955.7 1370 956.4 1371.1 956.8C1372.1 957.2 1373.4 957.1 1374.4 959.3C1375.4 961.5 1376.1 965.6 1376.9 970.2C1377.7 974.8 1378.6 982.2 1379.4 986.8C1380.2 991.4 1381.1 997.4 1381.9 997.7C1382.7 998 1383.7 991.7 1384.4 988.5C1385.2 985.3 1385.7 980.5 1386.4 978.5C1387.1 976.5 1387.9 976 1388.6 976.8C1389.3 977.6 1390.1 979.6 1390.8 983.5C1391.5 987.4 1392 993.5 1392.8 1000.2C1393.5 1006.9 1394.5 1018.7 1395.3 1023.6C1396.1 1028.5 1396.8 1028.6 1397.8 1029.4C1398.8 1030.2 1400 1029 1401.1 1028.6C1402.2 1028.2 1403.4 1025 1404.5 1026.9C1405.6 1028.9 1406.7 1036.1 1407.8 1040.3C1408.9 1044.5 1410 1049.2 1411.1 1052C1412.2 1054.8 1413.5 1056.5 1414.5 1057C1415.5 1057.5 1416.2 1057.5 1417 1055.3C1417.8 1053.1 1418.7 1046.5 1419.5 1043.6C1420.3 1040.7 1421.2 1038.9 1422 1037.8C1422.8 1036.7 1423.7 1038.7 1424.5 1036.9C1425.3 1035.1 1426.2 1031.9 1427 1026.9C1427.8 1021.9 1428.6 1010.9 1429.2 1006.9C1429.8 1002.9 1430.2 1002.4 1430.8 1002.7C1431.3 1003 1431.9 1004.5 1432.5 1008.5C1433.1 1012.5 1433.8 1020.5 1434.5 1026.9C1435.2 1033.3 1435.9 1043.3 1436.5 1046.9C1437.1 1050.5 1437.4 1050.3 1437.9 1048.6C1438.4 1046.9 1439 1040.5 1439.5 1036.9C1440 1033.3 1440.6 1029.2 1441.2 1026.9C1441.8 1024.6 1442.5 1022.9 1443.2 1023.2C1443.9 1023.5 1444.6 1026.3 1445.4 1028.6C1446.2 1030.9 1447.3 1033.3 1448 1036.9C1448.7 1040.5 1448.9 1047.2 1449.7 1050.3C1450.5 1053.4 1451.8 1055.3 1453 1055.3C1454.2 1055.3 1456 1051 1457.2 1050.3C1458.5 1049.6 1459.4 1050.5 1460.5 1051.1C1461.6 1051.6 1462.9 1053.4 1463.9 1053.6C1464.9 1053.8 1465.4 1053.4 1466.4 1052C1467.4 1050.6 1468.7 1046.6 1469.7 1045.3C1470.7 1044 1471.4 1043 1472.2 1044.4C1473 1045.8 1473.7 1051.5 1474.7 1053.6C1475.7 1055.7 1477.1 1057 1478.1 1057C1479.1 1057 1479.9 1056.4 1480.6 1053.6C1481.3 1050.8 1481.6 1045 1482.2 1040.3C1482.8 1035.6 1483.7 1029 1484.4 1025.2C1485.1 1021.4 1485.8 1019.1 1486.4 1017.7C1487 1016.3 1487.5 1015.9 1488.1 1016.9C1488.6 1017.9 1489.1 1020.5 1489.7 1023.6C1490.3 1026.7 1491 1032.2 1491.7 1035.3C1492.4 1038.3 1493 1040.2 1493.9 1041.9C1494.8 1043.6 1496.1 1044.7 1497.2 1045.3C1498.3 1045.9 1499.3 1045.4 1500.6 1045.3C1501.9 1045.2 1503.5 1044.6 1504.8 1044.4C1506 1044.2 1507 1045.7 1508.1 1044.4C1509.1 1043.2 1510.3 1038.4 1511.1 1036.9C1511.9 1035.4 1512.4 1035.2 1513.1 1035.3C1513.8 1035.4 1514.4 1035.9 1515.1 1037.8C1515.8 1039.7 1516.5 1044.8 1517.3 1046.9C1518.1 1049 1519 1050.2 1519.8 1050.3C1520.6 1050.4 1521.5 1048.4 1522.3 1047.8C1523.1 1047.2 1523.8 1046.8 1524.8 1046.9C1525.8 1047 1527 1047.5 1528.1 1048.6C1529.2 1049.7 1530.4 1052.5 1531.5 1053.6C1532.6 1054.7 1533.7 1055.8 1534.8 1055.3C1535.9 1054.8 1537.1 1052 1538.2 1050.3C1539.3 1048.6 1540.2 1045.6 1541.2 1045.3C1542.2 1045 1543 1046.9 1544 1048.6C1545 1050.3 1546.2 1054.3 1547.3 1055.3C1548.4 1056.3 1549.5 1055.3 1550.7 1054.5C1552 1053.7 1553.4 1051.3 1554.8 1050.3C1556.2 1049.3 1557.6 1049.2 1559 1048.6C1560.4 1048 1562.1 1048.9 1563.2 1046.9C1564.3 1045 1564.9 1039.2 1565.7 1036.9C1566.5 1034.6 1567.4 1032.8 1568.2 1032.8C1569 1032.8 1569.9 1035 1570.7 1036.9C1571.5 1038.8 1572.4 1043 1573.2 1044.4C1574 1045.8 1574.7 1045.2 1575.7 1045.3C1576.7 1045.4 1578.1 1044.5 1579.1 1045.3C1580.1 1046.1 1580.6 1048.1 1581.6 1050.3C1582.6 1052.5 1583.8 1056.5 1584.9 1058.6C1586 1060.7 1587.1 1062.4 1588.2 1062.8C1589.3 1063.2 1590.5 1062.3 1591.6 1061.1C1592.7 1059.8 1593.8 1057.1 1594.9 1055.3C1596 1053.5 1597.2 1052 1598.3 1050.3C1599.4 1048.6 1600.3 1046.1 1601.6 1045.3C1602.8 1044.5 1604.4 1045 1605.8 1045.3C1607.2 1045.6 1608.7 1046.1 1609.9 1046.9C1611.2 1047.7 1612.2 1049.7 1613.3 1050.3C1614.4 1050.9 1615.5 1051.7 1616.6 1050.3C1617.7 1048.9 1618.9 1044 1620 1041.9C1621.1 1039.8 1622.2 1038.6 1623.3 1037.8C1624.4 1037 1625.6 1037.7 1626.6 1036.9C1627.6 1036.1 1628.3 1033.8 1629.1 1032.8C1629.9 1031.8 1630.8 1030.7 1631.6 1031.1C1632.3 1031.5 1632.9 1032.9 1633.6 1035.3C1634.3 1037.7 1635 1043.1 1635.8 1045.3C1636.6 1047.5 1637.3 1048.8 1638.3 1048.6C1639.3 1048.4 1640.6 1045.8 1641.7 1044.4C1642.8 1043 1644 1041.3 1645 1040.3C1646 1039.3 1646.7 1040.3 1647.5 1038.6C1648.3 1036.9 1649.2 1033.1 1650 1030.3C1650.8 1027.5 1651.5 1024.3 1652.5 1021.9C1653.5 1019.5 1654.8 1017.4 1655.8 1016.1C1656.8 1014.9 1657.8 1014 1658.7 1014.4C1659.6 1014.8 1660.6 1016 1661.4 1018.6C1662.2 1021.2 1662.8 1026.1 1663.4 1030.3C1664 1034.5 1664.2 1040.8 1665 1043.6C1665.8 1046.4 1667.3 1046.4 1668.4 1046.9C1669.5 1047.5 1670.6 1046.3 1671.7 1046.9C1672.8 1047.5 1673.8 1048.6 1675 1050.3C1676.2 1052 1677.9 1055.5 1679.2 1057C1680.5 1058.5 1681.5 1060.1 1682.6 1059.5C1683.7 1058.9 1684.9 1054.8 1685.9 1053.6C1686.9 1052.3 1687.6 1052 1688.4 1052C1689.2 1052 1689.9 1052.3 1690.9 1053.6C1691.9 1054.8 1693 1058.1 1694.2 1059.5C1695.5 1060.9 1696.9 1061.9 1698.4 1062C1699.9 1062.1 1701.5 1060.9 1703.4 1060.3C1705.4 1059.7 1707.9 1058.7 1710.1 1058.6C1712.3 1058.5 1714.6 1059.2 1716.8 1059.5C1719 1059.8 1721.5 1060.6 1723.5 1060.3C1725.5 1060 1727.1 1058.6 1728.5 1057.8C1729.9 1057 1730.7 1055.6 1731.8 1055.3C1732.9 1055 1733.7 1055 1735.1 1056.1C1736.5 1057.2 1738.2 1060.6 1740.2 1062C1742.2 1063.4 1744.6 1064.2 1746.8 1064.5C1749 1064.8 1751.5 1064.2 1753.5 1063.6C1755.5 1063 1756.5 1061.2 1758.5 1061.1C1760.5 1061 1763.4 1062.5 1765.2 1062.8C1767 1063.1 1767.5 1062.8 1769.3 1062.8C1771.1 1062.8 1774.2 1063.5 1775.9 1062.8C1777.6 1062.1 1778.3 1060.4 1779.3 1058.6C1780.3 1056.8 1781 1053.4 1781.8 1052C1782.6 1050.6 1783.5 1049.9 1784.3 1050.3C1785.1 1050.7 1786 1052.5 1786.8 1054.5C1787.6 1056.5 1788.5 1060.6 1789.3 1062C1790.1 1063.4 1791 1064.2 1791.8 1062.8C1792.6 1061.4 1793.5 1056.4 1794.3 1053.6C1795.1 1050.8 1796 1047.8 1796.8 1046.1C1797.6 1044.4 1798.2 1043.5 1799 1043.6C1799.8 1043.7 1800.5 1045.2 1801.3 1046.9C1802 1048.6 1802.6 1051.6 1803.5 1053.6C1804.4 1055.5 1805.5 1057.6 1806.8 1058.6C1808 1059.6 1809.8 1059.6 1811 1059.5C1812.2 1059.4 1813 1057.5 1814.3 1057.8C1815.5 1058.1 1817.1 1060.4 1818.5 1061.1C1819.9 1061.8 1821.2 1062.1 1822.7 1062C1824.2 1061.9 1826 1060.9 1827.7 1060.3C1829.4 1059.7 1831 1058.3 1832.7 1058.6C1834.4 1058.9 1836 1061.7 1837.7 1062C1839.4 1062.3 1841.3 1060.7 1842.7 1060.3C1844.1 1059.9 1844.8 1059.2 1846 1059.5C1847.2 1059.8 1848.8 1061.3 1850.2 1062C1851.6 1062.7 1852.9 1063.3 1854.4 1063.6C1855.9 1063.9 1857.9 1064.4 1859.4 1063.6C1860.9 1062.8 1862.5 1060.5 1863.6 1058.6C1864.7 1056.7 1865.3 1053.4 1866.1 1052C1866.9 1050.6 1867.8 1050 1868.6 1050.3C1869.4 1050.6 1870.3 1051.6 1871.1 1053.6C1871.9 1055.5 1872.6 1060.3 1873.6 1062C1874.6 1063.7 1875.9 1064.4 1876.9 1063.6C1877.9 1062.8 1878.6 1058.7 1879.4 1057C1880.2 1055.3 1881.1 1053.6 1881.9 1053.6C1882.7 1053.6 1883.4 1055.9 1884.4 1057C1885.4 1058.1 1886.4 1059.5 1887.8 1060.3C1889.2 1061.1 1891.1 1061.9 1892.8 1062C1894.5 1062.1 1896.1 1061 1897.8 1061.1C1899.5 1061.2 1901.1 1062.4 1902.8 1062.8C1904.5 1063.2 1906.1 1063.7 1907.8 1063.6C1909.5 1063.5 1911.1 1062.5 1912.8 1062C1914.5 1061.5 1916.4 1060.7 1917.8 1060.3C1919.2 1059.9 1920.1 1059.1 1921.2 1059.5C1922.3 1059.9 1923.4 1061.8 1924.5 1062.8C1925.6 1063.8 1926.5 1065 1927.8 1065.3C1929 1065.6 1930.7 1065.9 1932 1064.5C1933.3 1063.1 1934.3 1058.5 1935.4 1057C1936.5 1055.5 1938.2 1055.6 1938.7 1055.3" fill="none" stroke="#ff8000" stroke-width="2.7" stroke-linejoin="round" stroke-linecap="round"/>
<defs><clipPath id="ac"><path d="M190 1083.6L195 1084.4L199.2 1086.9L203.4 1087.7L206.7 1085.2L209.2 1079.4L210.9 1083.6L215 1085.6L219.2 1083.6L223.4 1084.4L225.9 1081.9L228.4 1085.2L230.9 1079.1L233.7 1081.9L237.6 1090.3L240.1 1079.4L242.6 1080.2L246.8 1083.6L252.6 1087.7L255.9 1087.7L259.3 1081.9L261.8 1082.7L265.1 1086.6L268.5 1083.6L271.8 1080.2L275.1 1083.6L278.1 1085.7L281 1081.1L284.3 1078.2L287.7 1082.7L290.2 1078.2L293.5 1084.9L296 1076.9L300.2 1076.6L303.5 1082.7L306.5 1085.6L309.4 1080.2L311.9 1075.2L315.2 1031L318.5 1048.5L321.9 1066L324.9 1048.5L327.7 1025.1L331.1 1026.8L333.9 1050.2L336.9 1069.4L340.3 1036.8L342.8 1041.8L346.1 1048.5L349.9 1030.2L352.8 1050.2L354.4 1056.9L356.9 1051.9L362 1033.5L365.3 1016.8L368.6 1040.2L372 1046.8L374.5 1070.2L377.8 1066.9L381.2 1043.5L384.5 1060.2L387.3 1071.9L390.3 1063.5L393.3 1064.4L397 1058.5L402.9 1054.4L406.2 1045.2L409.5 1072.7L412 1066L415.4 1073.6L418.7 1071.9L422.1 1073.6L425.4 1076.9L430.4 1066.5L433.7 1077.7L437.1 1078.6L440.4 1079.4L443.8 1073.6L447.1 1078.6L450.1 1081.9L452.9 1073.6L457.1 1073.6L459.6 1061.9L462.5 1039.3L465.5 1043.5L468.5 1035.2L471.3 1056.9L474.6 1071.9L478 1055.2L480 1061.1L482.5 1048.6L485 1042.8L488.3 1039.4L490.9 1036.1L492 1013.6L493.7 985.2L495.9 980.2L498.4 966.8L500 956.8L502.5 951.8L505.9 950.1L509.2 953.5L512.6 961.8L514.2 973.5L516.4 989.3L518.7 980.2L520.9 955.1L523.1 935.1L525.1 923.7L527.6 940.1L530.1 958.5L531.8 966L534.3 953.5L537.6 933.4L540.1 920.9L542.6 915.1L545.1 896.7L546.8 882L548.8 895L550.5 906.7L553 905L554.3 890L555.1 880L556.5 858L558.5 841.3L561.8 827.9L564.3 816.3L565.6 811.6L566.8 824.6L568.1 849.6L570.2 866.3L571.5 880L572.7 896.7L575.2 925.1L577.7 902.5L580.2 910.9L583.5 893.4L585.2 880L586.8 858L588.8 838L590.5 832.1L594.4 828.8L596.9 824.6L598.9 812.9L601 786.2L603.5 749.5L606 707.7L607.7 682.7L608.9 666L611.1 618.9L612.7 568.9L614.4 518.8L615.6 485.4L616.9 452L617.2 404.9L618.2 371.6L621.1 367.4L623.2 368.2L624.4 373.2L625.6 363.2L624.9 321.5L625.6 288.1L626.6 254.7L627.6 238L630.9 100L632.8 238L633.3 271.4L633.9 321.5L634.9 371.6L635.6 404.9L636.4 452L636.9 485.4L637.8 535.5L638.6 585.6L639.8 627.3L640.6 666L641.9 696.1L643.6 727.8L645.6 707.7L647.6 666L648.6 618.9L650.3 585.6L652 552.2L654.5 523.8L656.5 507.9L658.6 523.8L660.3 552.2L661.6 585.6L662.8 618.9L663.6 666L664.5 699.4L665.6 742.8L667 729.4L669 724.4L671.2 731.1L673.3 744.5L675.3 766.2L677 789.5L678.7 809.6L680 799.6L681.5 798.7L682.3 816.3L684 841.3L685.7 866.3L686.7 880L687.8 905L690.4 935.1L692.9 960.1L695.4 973.5L697.9 977.7L700.4 976.8L702.9 950.1L704.5 953.5L707 970.2L709.5 986.8L712.1 963.5L714.1 930.1L715.7 886.7L717.4 930.1L719.6 973.5L722.1 1005.2L725.1 1006.9L727.9 988.5L730.4 980.2L734.1 970.5L737.1 983.5L740.4 1006.9L743.8 1021.9L747.1 1031.1L750.1 1030.3L753 1022.7L756.3 1021.9L759.1 1037.8L762.1 1026.9L765.5 1043.6L768.8 1056.1L771.3 1041.1L774.7 1042.8L778 1026.9L781.3 1026.6L784.2 1043.6L787.5 1061.1L790.9 1027.7L793.9 1041.9L796.4 1050.3L799.7 1028.6L803.3 1057.8L805.8 1048.6L809.2 1049.4L812.5 1047.8L815.4 1041.1L818.4 1048.6L821.7 1058.6L824.7 1042.8L827.5 1060.3L830.9 1057L834.2 1067.8L837.6 1051.1L840.1 1068.6L843.1 1055.3L846.7 1055.3L850.1 1054.5L853.4 1051.1L856.8 1058.6L859.3 1049.4L862.6 1061.1L865.9 1053.6L868.8 1041.1L871.8 1050.3L875.1 1064.5L878.5 1057L882.6 1052.8L885.1 1057L887.6 1067L893.5 1063.6L896.8 1054.5L899.8 1074.5L903.5 1063.6L908.5 1055.3L912.2 1061.1L915.5 1051.1L918.5 1065.3L921 1056.1L924.4 1055.3L927.7 1026.9L931.1 1041.9L934.4 1051.1L937.7 1053.6L941.1 1040.3L943.6 1052.8L946.6 1041.1L950.3 1061.1L953.6 1052L956.9 1046.1L959.4 1045.3L962.3 1019.4L965.6 1050.3L968.6 1036.9L972 1048.6L975 1056.1L977.8 1042.8L981.1 1041.9L983.6 1054.5L987 1046.9L990.3 1043.6L993.7 1044.4L997 1031.1L999.5 1025.2L1002.8 1036.1L1006.2 1021.1L1009.5 1028.6L1012.4 1037.8L1016.2 1022.7L1018.7 1025.2L1022 1015.2L1025.4 1010.2L1028.7 1014.4L1031.2 1018.6L1034.6 989.3L1037.4 993.5L1040.4 985.2L1043.7 981L1046.7 989.3L1049.9 959.3L1052.9 973.5L1056.3 983.5L1059.6 966.8L1062.4 961.8L1066.3 971L1068.8 966.8L1073.8 969.3L1078 962.6L1080.5 986.8L1082.1 998.5L1084.6 999.4L1087.5 1003.5L1090.8 983.5L1093.8 1003.5L1097.2 1010.2L1100.5 1018.6L1103.8 1023.6L1106.8 1030.3L1108.8 1041.9L1111.4 1046.1L1113.9 1045.3L1116.4 1042.8L1119.7 1045.3L1122.2 1048.6L1124 1048.6L1127.3 1050.3L1130.7 1056.1L1134 1044.4L1136.5 1043.6L1139 1031.9L1140.7 1028.6L1142.7 1038.6L1144.4 1046.9L1147.4 1044.4L1149.9 1051.1L1153.2 1041.1L1156.6 1044.4L1162.4 1046.9L1165.7 1041.1L1169.1 1044.4L1172.4 1044.4L1176.6 1050.3L1179.9 1051.1L1184.1 1057L1187.4 1056.1L1190.8 1063.6L1195.8 1064.5L1200 1050.3L1203.3 1062.8L1207.5 1061.1L1211.6 1063.6L1215 1067L1219.2 1059.5L1222.5 1056.1L1225.8 1059.5L1230.8 1056.1L1234.2 1047.8L1237.5 1056.1L1240.9 1055.3L1245 1056.1L1249.2 1060.3L1252.5 1052L1255.9 1052.8L1259.2 1061.1L1262.6 1061.1L1265.9 1046.1L1269.2 1056.1L1271.7 1060.3L1275.1 1053.6L1278.4 1052.8L1281.8 1055.3L1284.3 1042.8L1287.6 1051.1L1290.9 1052L1294.3 1057.8L1296.8 1048.6L1300.1 1060.3L1303.5 1057L1307.6 1051.1L1310.1 1047.8L1312.6 1052.8L1316 1047.8L1318.5 1043.6L1321.8 1058.6L1325.2 1047.8L1328.5 1048.6L1333.5 1045.3L1337.7 1040.3L1340.2 1037.8L1344.4 1042.8L1347.7 1042.8L1351 1046.1L1355.2 1041.9L1359.4 1036.9L1362.7 1036.1L1366.1 1029.4L1368.6 1038.6L1371.9 1026.9L1375.3 1024.4L1377.8 1031.1L1381.9 1021.9L1384.4 1025.2L1387.8 1015.2L1390.8 1006L1393.6 1023.6L1397 1028.6L1400.3 1026.1L1403.6 1021.9L1407 1031.9L1410.3 1042.8L1415.3 1036.9L1419.5 1046.9L1424.5 1054.5L1428.7 1048.6L1432.8 1046.1L1435.4 1046.1L1437.9 1055.3L1441.2 1051.1L1444.5 1052L1448 1050.3L1452.2 1045.3L1456.3 1044.4L1459.4 1036.9L1463 1046.1L1465.5 1046.1L1468.9 1040.3L1471.4 1041.1L1475.5 1034.4L1478.9 1030.3L1481.9 1025.2L1484.7 1027.7L1487.2 1036.1L1490.6 1036.9L1493.9 1038.6L1497.2 1046.9L1501.4 1046.9L1506.4 1042.8L1509.8 1044.4L1513.1 1048.6L1518.1 1050.3L1521.5 1052L1524.8 1049.4L1528.1 1050.3L1532.3 1055.3L1534.8 1046.9L1537.6 1039.4L1540.7 1045.3L1544.8 1053.6L1549.8 1045.3L1553.2 1052.8L1556.2 1046.9L1559.9 1051.1L1563.2 1048.6L1566.5 1052L1571.5 1043.6L1574.9 1053.6L1578.2 1057.8L1581.6 1053.6L1584.9 1050.3L1588.2 1057L1591.6 1058.6L1594.1 1057.8L1596.6 1047.8L1599.9 1044.4L1603.3 1041.9L1606.6 1046.9L1609.1 1046.1L1613.3 1053.6L1616.6 1055.3L1621.6 1054.5L1625 1052L1630 1054.5L1634.1 1048.6L1636.6 1050.3L1640 1053.6L1643.3 1049.4L1646.7 1049.4L1650 1054.5L1652.5 1055.3L1655.8 1058.6L1659.2 1044.4L1662.5 1040.3L1665 1048.6L1668.4 1044.4L1671.7 1038.6L1675 1045.3L1678.4 1047.8L1681.7 1045.3L1685.1 1046.1L1687.6 1041.1L1690.9 1045.3L1695.1 1052L1698.4 1052.8L1701.8 1052L1704.3 1053.6L1706.4 1046.1L1709.3 1053.6L1712.6 1052L1715.1 1057L1718.5 1058.6L1721.8 1052.8L1725.1 1055.3L1730.1 1053.6L1734.3 1050.3L1737.6 1055.3L1741.8 1055.3L1746.8 1051.1L1751 1052.8L1756 1057.8L1759.4 1050.3L1761.9 1057L1765.2 1050.3L1768.5 1053.6L1772.6 1053.6L1775.9 1049.4L1778.9 1050.3L1781.8 1057L1785.9 1055.3L1791 1052L1796 1050.3L1800.1 1049.4L1803.5 1052L1806.8 1055.3L1811 1052.8L1813.5 1051.1L1816 1046.9L1819.3 1048.6L1821.8 1045.3L1825.2 1051.1L1828.5 1048.6L1832.7 1051.1L1836 1050.3L1840.2 1046.9L1843.5 1053.6L1846.9 1049.4L1850.2 1047.8L1854.4 1051.1L1857.7 1052L1861.9 1050.3L1865.2 1050.3L1868.6 1057.8L1871.9 1057L1875.3 1045.3L1877.8 1057L1881.1 1054.5L1884.4 1056.1L1887.8 1053.6L1891.1 1050.3L1895.3 1052L1899.5 1055.3L1903.6 1060.3L1907 1052L1909.5 1046.9L1912.5 1046.1L1915.3 1051.1L1918.7 1055.3L1922 1052L1926.2 1052L1929.5 1053.6L1932 1058.6L1935.4 1057.8L1938.7 1056.1L1940.9 1056.1L1940.9 1081.1L190 1081.1Z"/></clipPath><clipPath id="pc"><rect x="190.3" y="2.2" width="1750.6" height="1118.2"/></clipPath></defs>
<g clip-path="url(#pc)"><path clip-path="url(#ac)" d="M-1047.3 1086.6L-50.7 90M-1027.3 1086.6L-2023.9 90M-1018.6 1086.6L-22 90M-998.6 1086.6L-1995.2 90M-989.8 1086.6L6.8 90M-969.8 1086.6L-1966.4 90M-961 1086.6L35.6 90M-941 1086.6L-1937.6 90M-932.2 1086.6L64.4 90M-912.2 1086.6L-1908.8 90M-903.4 1086.6L93.2 90M-883.4 1086.6L-1880 90M-874.7 1086.6L121.9 90M-854.7 1086.6L-1851.3 90M-845.9 1086.6L150.7 90M-825.9 1086.6L-1822.5 90M-817.1 1086.6L179.5 90M-797.1 1086.6L-1793.7 90M-788.3 1086.6L208.3 90M-768.3 1086.6L-1764.9 90M-759.5 1086.6L237.1 90M-739.5 1086.6L-1736.1 90M-730.8 1086.6L265.8 90M-710.8 1086.6L-1707.4 90M-702 1086.6L294.6 90M-682 1086.6L-1678.6 90M-673.2 1086.6L323.4 90M-653.2 1086.6L-1649.8 90M-644.4 1086.6L352.2 90M-624.4 1086.6L-1621 90M-615.6 1086.6L381 90M-595.6 1086.6L-1592.2 90M-586.9 1086.6L409.7 90M-566.9 1086.6L-1563.5 90M-558.1 1086.6L438.5 90M-538.1 1086.6L-1534.7 90M-529.3 1086.6L467.3 90M-509.3 1086.6L-1505.9 90M-500.5 1086.6L496.1 90M-480.5 1086.6L-1477.1 90M-471.7 1086.6L524.9 90M-451.7 1086.6L-1448.3 90M-443 1086.6L553.6 90M-423 1086.6L-1419.6 90M-414.2 1086.6L582.4 90M-394.2 1086.6L-1390.8 90M-385.4 1086.6L611.2 90M-365.4 1086.6L-1362 90M-356.6 1086.6L640 90M-336.6 1086.6L-1333.2 90M-327.8 1086.6L668.8 90M-307.8 1086.6L-1304.4 90M-299.1 1086.6L697.5 90M-279.1 1086.6L-1275.7 90M-270.3 1086.6L726.3 90M-250.3 1086.6L-1246.9 90M-241.5 1086.6L755.1 90M-221.5 1086.6L-1218.1 90M-212.7 1086.6L783.9 90M-192.7 1086.6L-1189.3 90M-183.9 1086.6L812.7 90M-163.9 1086.6L-1160.5 90M-155.2 1086.6L841.4 90M-135.2 1086.6L-1131.8 90M-126.4 1086.6L870.2 90M-106.4 1086.6L-1103 90M-97.6 1086.6L899 90M-77.6 1086.6L-1074.2 90M-68.8 1086.6L927.8 90M-48.8 1086.6L-1045.4 90M-40 1086.6L956.6 90M-20 1086.6L-1016.6 90M-11.3 1086.6L985.3 90M8.7 1086.6L-987.9 90M17.5 1086.6L1014.1 90M37.5 1086.6L-959.1 90M46.3 1086.6L1042.9 90M66.3 1086.6L-930.3 90M75.1 1086.6L1071.7 90M95.1 1086.6L-901.5 90M103.9 1086.6L1100.5 90M123.9 1086.6L-872.7 90M132.6 1086.6L1129.2 90M152.6 1086.6L-844 90M161.4 1086.6L1158 90M181.4 1086.6L-815.2 90M190.2 1086.6L1186.8 90M210.2 1086.6L-786.4 90M219 1086.6L1215.6 90M239 1086.6L-757.6 90M247.8 1086.6L1244.4 90M267.8 1086.6L-728.8 90M276.5 1086.6L1273.1 90M296.5 1086.6L-700.1 90M305.3 1086.6L1301.9 90M325.3 1086.6L-671.3 90M334.1 1086.6L1330.7 90M354.1 1086.6L-642.5 90M362.9 1086.6L1359.5 90M382.9 1086.6L-613.7 90M391.7 1086.6L1388.3 90M411.7 1086.6L-584.9 90M420.4 1086.6L1417 90M440.4 1086.6L-556.2 90M449.2 1086.6L1445.8 90M469.2 1086.6L-527.4 90M478 1086.6L1474.6 90M498 1086.6L-498.6 90M506.8 1086.6L1503.4 90M526.8 1086.6L-469.8 90M535.6 1086.6L1532.2 90M555.6 1086.6L-441 90M564.3 1086.6L1560.9 90M584.3 1086.6L-412.3 90M593.1 1086.6L1589.7 90M613.1 1086.6L-383.5 90M621.9 1086.6L1618.5 90M641.9 1086.6L-354.7 90M650.7 1086.6L1647.3 90M670.7 1086.6L-325.9 90M679.5 1086.6L1676.1 90M699.5 1086.6L-297.1 90M708.2 1086.6L1704.8 90M728.2 1086.6L-268.4 90M737 1086.6L1733.6 90M757 1086.6L-239.6 90M765.8 1086.6L1762.4 90M785.8 1086.6L-210.8 90M794.6 1086.6L1791.2 90M814.6 1086.6L-182 90M823.4 1086.6L1820 90M843.4 1086.6L-153.2 90M852.1 1086.6L1848.7 90M872.1 1086.6L-124.5 90M880.9 1086.6L1877.5 90M900.9 1086.6L-95.7 90M909.7 1086.6L1906.3 90M929.7 1086.6L-66.9 90M938.5 1086.6L1935.1 90M958.5 1086.6L-38.1 90M967.3 1086.6L1963.9 90M987.3 1086.6L-9.3 90M996 1086.6L1992.6 90M1016 1086.6L19.4 90M1024.8 1086.6L2021.4 90M1044.8 1086.6L48.2 90M1053.6 1086.6L2050.2 90M1073.6 1086.6L77 90M1082.4 1086.6L2079 90M1102.4 1086.6L105.8 90M1111.2 1086.6L2107.8 90M1131.2 1086.6L134.6 90M1139.9 1086.6L2136.5 90M1159.9 1086.6L163.3 90M1168.7 1086.6L2165.3 90M1188.7 1086.6L192.1 90M1197.5 1086.6L2194.1 90M1217.5 1086.6L220.9 90M1226.3 1086.6L2222.9 90M1246.3 1086.6L249.7 90M1255.1 1086.6L2251.7 90M1275.1 1086.6L278.5 90M1283.8 1086.6L2280.4 90M1303.8 1086.6L307.2 90M1312.6 1086.6L2309.2 90M1332.6 1086.6L336 90M1341.4 1086.6L2338 90M1361.4 1086.6L364.8 90M1370.2 1086.6L2366.8 90M1390.2 1086.6L393.6 90M1399 1086.6L2395.6 90M1419 1086.6L422.4 90M1427.7 1086.6L2424.3 90M1447.7 1086.6L451.1 90M1456.5 1086.6L2453.1 90M1476.5 1086.6L479.9 90M1485.3 1086.6L2481.9 90M1505.3 1086.6L508.7 90M1514.1 1086.6L2510.7 90M1534.1 1086.6L537.5 90M1542.9 1086.6L2539.5 90M1562.9 1086.6L566.3 90M1571.6 1086.6L2568.2 90M1591.6 1086.6L595 90M1600.4 1086.6L2597 90M1620.4 1086.6L623.8 90M1629.2 1086.6L2625.8 90M1649.2 1086.6L652.6 90M1658 1086.6L2654.6 90M1678 1086.6L681.4 90M1686.8 1086.6L2683.4 90M1706.8 1086.6L710.2 90M1715.5 1086.6L2712.1 90M1735.5 1086.6L738.9 90M1744.3 1086.6L2740.9 90M1764.3 1086.6L767.7 90M1773.1 1086.6L2769.7 90M1793.1 1086.6L796.5 90M1801.9 1086.6L2798.5 90M1821.9 1086.6L825.3 90M1830.7 1086.6L2827.3 90M1850.7 1086.6L854.1 90M1859.4 1086.6L2856 90M1879.4 1086.6L882.8 90M1888.2 1086.6L2884.8 90M1908.2 1086.6L911.6 90M1917 1086.6L2913.6 90M1937 1086.6L940.4 90M1945.8 1086.6L2942.4 90M1965.8 1086.6L969.2 90M1974.6 1086.6L2971.2 90M1994.6 1086.6L998 90M2003.3 1086.6L2999.9 90M2023.3 1086.6L1026.7 90M2032.1 1086.6L3028.7 90M2052.1 1086.6L1055.5 90M2060.9 1086.6L3057.5 90M2080.9 1086.6L1084.3 90M2089.7 1086.6L3086.3 90M2109.7 1086.6L1113.1 90M2118.5 1086.6L3115.1 90M2138.5 1086.6L1141.9 90M2147.2 1086.6L3143.8 90M2167.2 1086.6L1170.6 90M2176 1086.6L3172.6 90M2196 1086.6L1199.4 90M2204.8 1086.6L3201.4 90M2224.8 1086.6L1228.2 90M2233.6 1086.6L3230.2 90M2253.6 1086.6L1257 90M2262.4 1086.6L3259 90M2282.4 1086.6L1285.8 90M2291.1 1086.6L3287.7 90M2311.1 1086.6L1314.5 90M2319.9 1086.6L3316.5 90M2339.9 1086.6L1343.3 90M2348.7 1086.6L3345.3 90M2368.7 1086.6L1372.1 90M2377.5 1086.6L3374.1 90M2397.5 1086.6L1400.9 90M2406.3 1086.6L3402.9 90M2426.3 1086.6L1429.7 90M2435 1086.6L3431.6 90M2455 1086.6L1458.4 90M2463.8 1086.6L3460.4 90M2483.8 1086.6L1487.2 90M2492.6 1086.6L3489.2 90M2512.6 1086.6L1516 90M2521.4 1086.6L3518 90M2541.4 1086.6L1544.8 90M2550.2 1086.6L3546.8 90M2570.2 1086.6L1573.6 90M2578.9 1086.6L3575.5 90M2598.9 1086.6L1602.3 90M2607.7 1086.6L3604.3 90M2627.7 1086.6L1631.1 90M2636.5 1086.6L3633.1 90M2656.5 1086.6L1659.9 90M2665.3 1086.6L3661.9 90M2685.3 1086.6L1688.7 90M2694.1 1086.6L3690.7 90M2714.1 1086.6L1717.5 90M2722.8 1086.6L3719.4 90M2742.8 1086.6L1746.2 90M2751.6 1086.6L3748.2 90M2771.6 1086.6L1775 90M2780.4 1086.6L3777 90M2800.4 1086.6L1803.8 90M2809.2 1086.6L3805.8 90M2829.2 1086.6L1832.6 90M2838 1086.6L3834.6 90M2858 1086.6L1861.4 90M2866.7 1086.6L3863.3 90M2886.7 1086.6L1890.1 90M2895.5 1086.6L3892.1 90M2915.5 1086.6L1918.9 90M2924.3 1086.6L3920.9 90M2944.3 1086.6L1947.7 90M2953.1 1086.6L3949.7 90M2973.1 1086.6L1976.5 90M2981.9 1086.6L3978.5 90M3001.9 1086.6L2005.3 90M3010.6 1086.6L4007.2 90M3030.6 1086.6L2034 90M3039.4 1086.6L4036 90M3059.4 1086.6L2062.8 90M3068.2 1086.6L4064.8 90M3088.2 1086.6L2091.6 90M3097 1086.6L4093.6 90M3117 1086.6L2120.4 90M3125.8 1086.6L4122.4 90M3145.8 1086.6L2149.2 90M3154.5 1086.6L4151.1 90M3174.5 1086.6L2177.9 90" fill="none" stroke="#800000" stroke-width="1.55"/></g>
<path d="M190 1083.6L195 1084.4L199.2 1086.9L203.4 1087.7L206.7 1085.2L209.2 1079.4L210.9 1083.6L215 1085.6L219.2 1083.6L223.4 1084.4L225.9 1081.9L228.4 1085.2L230.9 1079.1L233.7 1081.9L237.6 1090.3L240.1 1079.4L242.6 1080.2L246.8 1083.6L252.6 1087.7L255.9 1087.7L259.3 1081.9L261.8 1082.7L265.1 1086.6L268.5 1083.6L271.8 1080.2L275.1 1083.6L278.1 1085.7L281 1081.1L284.3 1078.2L287.7 1082.7L290.2 1078.2L293.5 1084.9L296 1076.9L300.2 1076.6L303.5 1082.7L306.5 1085.6L309.4 1080.2L311.9 1075.2L315.2 1031L318.5 1048.5L321.9 1066L324.9 1048.5L327.7 1025.1L331.1 1026.8L333.9 1050.2L336.9 1069.4L340.3 1036.8L342.8 1041.8L346.1 1048.5L349.9 1030.2L352.8 1050.2L354.4 1056.9L356.9 1051.9L362 1033.5L365.3 1016.8L368.6 1040.2L372 1046.8L374.5 1070.2L377.8 1066.9L381.2 1043.5L384.5 1060.2L387.3 1071.9L390.3 1063.5L393.3 1064.4L397 1058.5L402.9 1054.4L406.2 1045.2L409.5 1072.7L412 1066L415.4 1073.6L418.7 1071.9L422.1 1073.6L425.4 1076.9L430.4 1066.5L433.7 1077.7L437.1 1078.6L440.4 1079.4L443.8 1073.6L447.1 1078.6L450.1 1081.9L452.9 1073.6L457.1 1073.6L459.6 1061.9L462.5 1039.3L465.5 1043.5L468.5 1035.2L471.3 1056.9L474.6 1071.9L478 1055.2L480 1061.1L482.5 1048.6L485 1042.8L488.3 1039.4L490.9 1036.1L492 1013.6L493.7 985.2L495.9 980.2L498.4 966.8L500 956.8L502.5 951.8L505.9 950.1L509.2 953.5L512.6 961.8L514.2 973.5L516.4 989.3L518.7 980.2L520.9 955.1L523.1 935.1L525.1 923.7L527.6 940.1L530.1 958.5L531.8 966L534.3 953.5L537.6 933.4L540.1 920.9L542.6 915.1L545.1 896.7L546.8 882L548.8 895L550.5 906.7L553 905L554.3 890L555.1 880L556.5 858L558.5 841.3L561.8 827.9L564.3 816.3L565.6 811.6L566.8 824.6L568.1 849.6L570.2 866.3L571.5 880L572.7 896.7L575.2 925.1L577.7 902.5L580.2 910.9L583.5 893.4L585.2 880L586.8 858L588.8 838L590.5 832.1L594.4 828.8L596.9 824.6L598.9 812.9L601 786.2L603.5 749.5L606 707.7L607.7 682.7L608.9 666L611.1 618.9L612.7 568.9L614.4 518.8L615.6 485.4L616.9 452L617.2 404.9L618.2 371.6L621.1 367.4L623.2 368.2L624.4 373.2L625.6 363.2L624.9 321.5L625.6 288.1L626.6 254.7L627.6 238L630.9 100L632.8 238L633.3 271.4L633.9 321.5L634.9 371.6L635.6 404.9L636.4 452L636.9 485.4L637.8 535.5L638.6 585.6L639.8 627.3L640.6 666L641.9 696.1L643.6 727.8L645.6 707.7L647.6 666L648.6 618.9L650.3 585.6L652 552.2L654.5 523.8L656.5 507.9L658.6 523.8L660.3 552.2L661.6 585.6L662.8 618.9L663.6 666L664.5 699.4L665.6 742.8L667 729.4L669 724.4L671.2 731.1L673.3 744.5L675.3 766.2L677 789.5L678.7 809.6L680 799.6L681.5 798.7L682.3 816.3L684 841.3L685.7 866.3L686.7 880L687.8 905L690.4 935.1L692.9 960.1L695.4 973.5L697.9 977.7L700.4 976.8L702.9 950.1L704.5 953.5L707 970.2L709.5 986.8L712.1 963.5L714.1 930.1L715.7 886.7L717.4 930.1L719.6 973.5L722.1 1005.2L725.1 1006.9L727.9 988.5L730.4 980.2L734.1 970.5L737.1 983.5L740.4 1006.9L743.8 1021.9L747.1 1031.1L750.1 1030.3L753 1022.7L756.3 1021.9L759.1 1037.8L762.1 1026.9L765.5 1043.6L768.8 1056.1L771.3 1041.1L774.7 1042.8L778 1026.9L781.3 1026.6L784.2 1043.6L787.5 1061.1L790.9 1027.7L793.9 1041.9L796.4 1050.3L799.7 1028.6L803.3 1057.8L805.8 1048.6L809.2 1049.4L812.5 1047.8L815.4 1041.1L818.4 1048.6L821.7 1058.6L824.7 1042.8L827.5 1060.3L830.9 1057L834.2 1067.8L837.6 1051.1L840.1 1068.6L843.1 1055.3L846.7 1055.3L850.1 1054.5L853.4 1051.1L856.8 1058.6L859.3 1049.4L862.6 1061.1L865.9 1053.6L868.8 1041.1L871.8 1050.3L875.1 1064.5L878.5 1057L882.6 1052.8L885.1 1057L887.6 1067L893.5 1063.6L896.8 1054.5L899.8 1074.5L903.5 1063.6L908.5 1055.3L912.2 1061.1L915.5 1051.1L918.5 1065.3L921 1056.1L924.4 1055.3L927.7 1026.9L931.1 1041.9L934.4 1051.1L937.7 1053.6L941.1 1040.3L943.6 1052.8L946.6 1041.1L950.3 1061.1L953.6 1052L956.9 1046.1L959.4 1045.3L962.3 1019.4L965.6 1050.3L968.6 1036.9L972 1048.6L975 1056.1L977.8 1042.8L981.1 1041.9L983.6 1054.5L987 1046.9L990.3 1043.6L993.7 1044.4L997 1031.1L999.5 1025.2L1002.8 1036.1L1006.2 1021.1L1009.5 1028.6L1012.4 1037.8L1016.2 1022.7L1018.7 1025.2L1022 1015.2L1025.4 1010.2L1028.7 1014.4L1031.2 1018.6L1034.6 989.3L1037.4 993.5L1040.4 985.2L1043.7 981L1046.7 989.3L1049.9 959.3L1052.9 973.5L1056.3 983.5L1059.6 966.8L1062.4 961.8L1066.3 971L1068.8 966.8L1073.8 969.3L1078 962.6L1080.5 986.8L1082.1 998.5L1084.6 999.4L1087.5 1003.5L1090.8 983.5L1093.8 1003.5L1097.2 1010.2L1100.5 1018.6L1103.8 1023.6L1106.8 1030.3L1108.8 1041.9L1111.4 1046.1L1113.9 1045.3L1116.4 1042.8L1119.7 1045.3L1122.2 1048.6L1124 1048.6L1127.3 1050.3L1130.7 1056.1L1134 1044.4L1136.5 1043.6L1139 1031.9L1140.7 1028.6L1142.7 1038.6L1144.4 1046.9L1147.4 1044.4L1149.9 1051.1L1153.2 1041.1L1156.6 1044.4L1162.4 1046.9L1165.7 1041.1L1169.1 1044.4L1172.4 1044.4L1176.6 1050.3L1179.9 1051.1L1184.1 1057L1187.4 1056.1L1190.8 1063.6L1195.8 1064.5L1200 1050.3L1203.3 1062.8L1207.5 1061.1L1211.6 1063.6L1215 1067L1219.2 1059.5L1222.5 1056.1L1225.8 1059.5L1230.8 1056.1L1234.2 1047.8L1237.5 1056.1L1240.9 1055.3L1245 1056.1L1249.2 1060.3L1252.5 1052L1255.9 1052.8L1259.2 1061.1L1262.6 1061.1L1265.9 1046.1L1269.2 1056.1L1271.7 1060.3L1275.1 1053.6L1278.4 1052.8L1281.8 1055.3L1284.3 1042.8L1287.6 1051.1L1290.9 1052L1294.3 1057.8L1296.8 1048.6L1300.1 1060.3L1303.5 1057L1307.6 1051.1L1310.1 1047.8L1312.6 1052.8L1316 1047.8L1318.5 1043.6L1321.8 1058.6L1325.2 1047.8L1328.5 1048.6L1333.5 1045.3L1337.7 1040.3L1340.2 1037.8L1344.4 1042.8L1347.7 1042.8L1351 1046.1L1355.2 1041.9L1359.4 1036.9L1362.7 1036.1L1366.1 1029.4L1368.6 1038.6L1371.9 1026.9L1375.3 1024.4L1377.8 1031.1L1381.9 1021.9L1384.4 1025.2L1387.8 1015.2L1390.8 1006L1393.6 1023.6L1397 1028.6L1400.3 1026.1L1403.6 1021.9L1407 1031.9L1410.3 1042.8L1415.3 1036.9L1419.5 1046.9L1424.5 1054.5L1428.7 1048.6L1432.8 1046.1L1435.4 1046.1L1437.9 1055.3L1441.2 1051.1L1444.5 1052L1448 1050.3L1452.2 1045.3L1456.3 1044.4L1459.4 1036.9L1463 1046.1L1465.5 1046.1L1468.9 1040.3L1471.4 1041.1L1475.5 1034.4L1478.9 1030.3L1481.9 1025.2L1484.7 1027.7L1487.2 1036.1L1490.6 1036.9L1493.9 1038.6L1497.2 1046.9L1501.4 1046.9L1506.4 1042.8L1509.8 1044.4L1513.1 1048.6L1518.1 1050.3L1521.5 1052L1524.8 1049.4L1528.1 1050.3L1532.3 1055.3L1534.8 1046.9L1537.6 1039.4L1540.7 1045.3L1544.8 1053.6L1549.8 1045.3L1553.2 1052.8L1556.2 1046.9L1559.9 1051.1L1563.2 1048.6L1566.5 1052L1571.5 1043.6L1574.9 1053.6L1578.2 1057.8L1581.6 1053.6L1584.9 1050.3L1588.2 1057L1591.6 1058.6L1594.1 1057.8L1596.6 1047.8L1599.9 1044.4L1603.3 1041.9L1606.6 1046.9L1609.1 1046.1L1613.3 1053.6L1616.6 1055.3L1621.6 1054.5L1625 1052L1630 1054.5L1634.1 1048.6L1636.6 1050.3L1640 1053.6L1643.3 1049.4L1646.7 1049.4L1650 1054.5L1652.5 1055.3L1655.8 1058.6L1659.2 1044.4L1662.5 1040.3L1665 1048.6L1668.4 1044.4L1671.7 1038.6L1675 1045.3L1678.4 1047.8L1681.7 1045.3L1685.1 1046.1L1687.6 1041.1L1690.9 1045.3L1695.1 1052L1698.4 1052.8L1701.8 1052L1704.3 1053.6L1706.4 1046.1L1709.3 1053.6L1712.6 1052L1715.1 1057L1718.5 1058.6L1721.8 1052.8L1725.1 1055.3L1730.1 1053.6L1734.3 1050.3L1737.6 1055.3L1741.8 1055.3L1746.8 1051.1L1751 1052.8L1756 1057.8L1759.4 1050.3L1761.9 1057L1765.2 1050.3L1768.5 1053.6L1772.6 1053.6L1775.9 1049.4L1778.9 1050.3L1781.8 1057L1785.9 1055.3L1791 1052L1796 1050.3L1800.1 1049.4L1803.5 1052L1806.8 1055.3L1811 1052.8L1813.5 1051.1L1816 1046.9L1819.3 1048.6L1821.8 1045.3L1825.2 1051.1L1828.5 1048.6L1832.7 1051.1L1836 1050.3L1840.2 1046.9L1843.5 1053.6L1846.9 1049.4L1850.2 1047.8L1854.4 1051.1L1857.7 1052L1861.9 1050.3L1865.2 1050.3L1868.6 1057.8L1871.9 1057L1875.3 1045.3L1877.8 1057L1881.1 1054.5L1884.4 1056.1L1887.8 1053.6L1891.1 1050.3L1895.3 1052L1899.5 1055.3L1903.6 1060.3L1907 1052L1909.5 1046.9L1912.5 1046.1L1915.3 1051.1L1918.7 1055.3L1922 1052L1926.2 1052L1929.5 1053.6L1932 1058.6L1935.4 1057.8L1938.7 1056.1" fill="none" stroke="#800000" stroke-width="3.6" stroke-linejoin="round" stroke-linecap="round"/>
<line x1="190.3" y1="1081.1" x2="1940.9" y2="1081.1" stroke="#000" stroke-width="3.5"/>
<line x1="256.7" y1="269.2" x2="256.7" y2="422" stroke="#ff0000" stroke-width="2.0"/><line x1="280.9" y1="269.2" x2="280.9" y2="422" stroke="#ff0000" stroke-width="2.0"/><line x1="305.5" y1="269.2" x2="305.5" y2="422" stroke="#ff0000" stroke-width="2.0"/><line x1="312.6" y1="269.2" x2="312.6" y2="422" stroke="#ff0000" stroke-width="2.0"/><line x1="372.2" y1="269.2" x2="372.2" y2="422" stroke="#0000ff" stroke-width="2.0"/><line x1="451.3" y1="269.2" x2="451.3" y2="422" stroke="#0000ff" stroke-width="2.0"/><line x1="453" y1="269.2" x2="453" y2="422" stroke="#0000ff" stroke-width="2.0"/><line x1="475.7" y1="269.2" x2="475.7" y2="422" stroke="#0000ff" stroke-width="2.0"/><line x1="485.8" y1="269.2" x2="485.8" y2="422" stroke="#0000ff" stroke-width="2.0"/><line x1="489.3" y1="269.2" x2="489.3" y2="422" stroke="#0000ff" stroke-width="2.0"/><line x1="494.9" y1="269.2" x2="494.9" y2="422" stroke="#0000ff" stroke-width="2.0"/><line x1="515" y1="269.2" x2="515" y2="422" stroke="#0000ff" stroke-width="2.0"/><line x1="539.3" y1="269.2" x2="539.3" y2="422" stroke="#0000ff" stroke-width="2.0"/><line x1="244.7" y1="612.5" x2="244.7" y2="765.3" stroke="#ff0000" stroke-width="2.0"/><line x1="268.6" y1="612.5" x2="268.6" y2="765.3" stroke="#ff0000" stroke-width="2.0"/><line x1="294.6" y1="612.5" x2="294.6" y2="765.3" stroke="#ff0000" stroke-width="2.0"/><line x1="302" y1="612.5" x2="302" y2="765.3" stroke="#ff0000" stroke-width="2.0"/><line x1="539.3" y1="611.8" x2="539.3" y2="766" stroke="#000000" stroke-width="3.6"/><line x1="373.1" y1="612.5" x2="373.1" y2="765.3" stroke="#0000ff" stroke-width="2.0"/><line x1="449" y1="612.5" x2="449" y2="765.3" stroke="#0000ff" stroke-width="2.0"/><line x1="451.7" y1="612.5" x2="451.7" y2="765.3" stroke="#0000ff" stroke-width="2.0"/><line x1="475.9" y1="612.5" x2="475.9" y2="765.3" stroke="#0000ff" stroke-width="2.0"/><line x1="484.8" y1="612.5" x2="484.8" y2="765.3" stroke="#0000ff" stroke-width="2.0"/><line x1="490.9" y1="612.5" x2="490.9" y2="765.3" stroke="#0000ff" stroke-width="2.0"/><line x1="492.6" y1="612.5" x2="492.6" y2="765.3" stroke="#0000ff" stroke-width="2.0"/><line x1="513.8" y1="612.5" x2="513.8" y2="765.3" stroke="#0000ff" stroke-width="2.0"/><line x1="539.3" y1="612.5" x2="539.3" y2="765.3" stroke="#0000ff" stroke-width="2.0"/>
<path d="M221.5 3.2V13.2M221.5 1119.5V1109.6M252.7 3.2V13.2M252.7 1119.5V1109.6M284 3.2V13.2M284 1119.5V1109.6M315.3 3.2V13.2M315.3 1119.5V1109.6M346.5 3.2V13.2M346.5 1119.5V1109.6M377.8 3.2V13.2M377.8 1119.5V1109.6M409.1 3.2V13.2M409.1 1119.5V1109.6M440.4 3.2V13.2M440.4 1119.5V1109.6M471.6 3.2V13.2M471.6 1119.5V1109.6M502.9 3.2V23.1M502.9 1119.5V1099.7M534.2 3.2V13.2M534.2 1119.5V1109.6M565.4 3.2V13.2M565.4 1119.5V1109.6M596.7 3.2V13.2M596.7 1119.5V1109.6M628 3.2V13.2M628 1119.5V1109.6M659.2 3.2V13.2M659.2 1119.5V1109.6M690.5 3.2V13.2M690.5 1119.5V1109.6M721.8 3.2V13.2M721.8 1119.5V1109.6M753.1 3.2V13.2M753.1 1119.5V1109.6M784.3 3.2V13.2M784.3 1119.5V1109.6M815.6 3.2V23.1M815.6 1119.5V1099.7M846.9 3.2V13.2M846.9 1119.5V1109.6M878.1 3.2V13.2M878.1 1119.5V1109.6M909.4 3.2V13.2M909.4 1119.5V1109.6M940.7 3.2V13.2M940.7 1119.5V1109.6M972 3.2V13.2M972 1119.5V1109.6M1003.2 3.2V13.2M1003.2 1119.5V1109.6M1034.5 3.2V13.2M1034.5 1119.5V1109.6M1065.8 3.2V13.2M1065.8 1119.5V1109.6M1097 3.2V13.2M1097 1119.5V1109.6M1128.3 3.2V23.1M1128.3 1119.5V1099.7M1159.6 3.2V13.2M1159.6 1119.5V1109.6M1190.8 3.2V13.2M1190.8 1119.5V1109.6M1222.1 3.2V13.2M1222.1 1119.5V1109.6M1253.4 3.2V13.2M1253.4 1119.5V1109.6M1284.7 3.2V13.2M1284.7 1119.5V1109.6M1315.9 3.2V13.2M1315.9 1119.5V1109.6M1347.2 3.2V13.2M1347.2 1119.5V1109.6M1378.5 3.2V13.2M1378.5 1119.5V1109.6M1409.7 3.2V13.2M1409.7 1119.5V1109.6M1441 3.2V23.1M1441 1119.5V1099.7M1472.3 3.2V13.2M1472.3 1119.5V1109.6M1503.5 3.2V13.2M1503.5 1119.5V1109.6M1534.8 3.2V13.2M1534.8 1119.5V1109.6M1566.1 3.2V13.2M1566.1 1119.5V1109.6M1597.4 3.2V13.2M1597.4 1119.5V1109.6M1628.6 3.2V13.2M1628.6 1119.5V1109.6M1659.9 3.2V13.2M1659.9 1119.5V1109.6M1691.2 3.2V13.2M1691.2 1119.5V1109.6M1722.4 3.2V13.2M1722.4 1119.5V1109.6M1753.7 3.2V23.1M1753.7 1119.5V1099.7M1785 3.2V13.2M1785 1119.5V1109.6M1816.2 3.2V13.2M1816.2 1119.5V1109.6M1847.5 3.2V13.2M1847.5 1119.5V1109.6M1878.8 3.2V13.2M1878.8 1119.5V1109.6M1910 3.2V13.2M1910 1119.5V1109.6M191.3 1100.7H201.2M1939.9 1100.7H1930M191.3 1081.1H211.1M1939.9 1081.1H1920.1M191.3 1061.5H201.2M1939.9 1061.5H1930M191.3 1041.9H201.2M1939.9 1041.9H1930M191.3 1022.3H201.2M1939.9 1022.3H1930M191.3 1002.6H201.2M1939.9 1002.6H1930M191.3 983H201.2M1939.9 983H1930M191.3 963.4H201.2M1939.9 963.4H1930M191.3 943.8H201.2M1939.9 943.8H1930M191.3 924.2H201.2M1939.9 924.2H1930M191.3 904.6H201.2M1939.9 904.6H1930M191.3 885H211.1M1939.9 885H1920.1M191.3 865.3H201.2M1939.9 865.3H1930M191.3 845.7H201.2M1939.9 845.7H1930M191.3 826.1H201.2M1939.9 826.1H1930M191.3 806.5H201.2M1939.9 806.5H1930M191.3 786.9H201.2M1939.9 786.9H1930M191.3 767.3H201.2M1939.9 767.3H1930M191.3 747.7H201.2M1939.9 747.7H1930M191.3 728H201.2M1939.9 728H1930M191.3 708.4H201.2M1939.9 708.4H1930M191.3 688.8H211.1M1939.9 688.8H1920.1M191.3 669.2H201.2M1939.9 669.2H1930M191.3 649.6H201.2M1939.9 649.6H1930M191.3 630H201.2M1939.9 630H1930M191.3 610.4H201.2M1939.9 610.4H1930M191.3 590.7H201.2M1939.9 590.7H1930M191.3 571.1H201.2M1939.9 571.1H1930M191.3 551.5H201.2M1939.9 551.5H1930M191.3 531.9H201.2M1939.9 531.9H1930M191.3 512.3H201.2M1939.9 512.3H1930M191.3 492.7H211.1M1939.9 492.7H1920.1M191.3 473.1H201.2M1939.9 473.1H1930M191.3 453.5H201.2M1939.9 453.5H1930M191.3 433.8H201.2M1939.9 433.8H1930M191.3 414.2H201.2M1939.9 414.2H1930M191.3 394.6H201.2M1939.9 394.6H1930M191.3 375H201.2M1939.9 375H1930M191.3 355.4H201.2M1939.9 355.4H1930M191.3 335.8H201.2M1939.9 335.8H1930M191.3 316.2H201.2M1939.9 316.2H1930M191.3 296.5H211.1M1939.9 296.5H1920.1M191.3 276.9H201.2M1939.9 276.9H1930M191.3 257.3H201.2M1939.9 257.3H1930M191.3 237.7H201.2M1939.9 237.7H1930M191.3 218.1H201.2M1939.9 218.1H1930M191.3 198.5H201.2M1939.9 198.5H1930M191.3 178.9H201.2M1939.9 178.9H1930M191.3 159.2H201.2M1939.9 159.2H1930M191.3 139.6H201.2M1939.9 139.6H1930M191.3 120H201.2M1939.9 120H1930M191.3 100.4H211.1M1939.9 100.4H1920.1M191.3 80.8H201.2M1939.9 80.8H1930M191.3 61.2H201.2M1939.9 61.2H1930M191.3 41.6H201.2M1939.9 41.6H1930M191.3 21.9H201.2M1939.9 21.9H1930" fill="none" stroke="#000" stroke-width="3.2" stroke-linecap="round"/>
<rect x="190.3" y="2.2" width="1750.6" height="1118.2" fill="none" stroke="#000" stroke-width="3.55" stroke-linejoin="round"/>
<text x="189.7" y="1182" font-size="50" text-anchor="middle">40</text>
<text x="502.4" y="1182" font-size="50" text-anchor="middle">50</text>
<text x="815.1" y="1182" font-size="50" text-anchor="middle">60</text>
<text x="1127.8" y="1182" font-size="50" text-anchor="middle">70</text>
<text x="1440.5" y="1182" font-size="50" text-anchor="middle">80</text>
<text x="1753.2" y="1182" font-size="50" text-anchor="middle">90</text>
<text x="168" y="1094.9" font-size="50" text-anchor="end">0</text>
<text x="168" y="898.8" font-size="50" text-anchor="end">20</text>
<text x="168" y="702.6" font-size="50" text-anchor="end">40</text>
<text x="168" y="506.5" font-size="50" text-anchor="end">60</text>
<text x="168" y="310.3" font-size="50" text-anchor="end">80</text>
<text x="168" y="114.2" font-size="50" text-anchor="end">100</text>
<text x="807.0" y="1270" font-size="54.5" xml:space="preserve">Photon energy&#160; ( eV )</text>
<text transform="translate(40,950) rotate(-90)" font-size="54.3" xml:space="preserve">Cross section&#160; ( % of maximum )</text>
<text x="336.1" y="182.1" font-size="50" fill="#8000ff">NIST</text>
<text x="228" y="243.5" font-size="50" fill="#ff0000">5d6s</text>
<text x="456.4" y="243.5" font-size="50" fill="#0000ff">5d</text>
<text x="512.2" y="215.5" font-size="28" fill="#0000ff">2</text>
<text x="307.7" y="522.6" font-size="50">Cowan</text>
<text x="222.7" y="579" font-size="50" fill="#ff0000">5d6s</text>
<text x="451" y="579" font-size="50" fill="#0000ff">5d</text>
<text x="506.6" y="551" font-size="28" fill="#0000ff">2</text>
<text x="1212.2" y="146.2" font-size="54.3">h</text>
<text class="sym" x="1242" y="146.2" font-size="57">&#957;</text>
<text x="1283.1" y="146.2" font-size="54.3">+</text>
<text x="1330.2" y="146.2" font-size="54.3">W</text>
<text x="1381.7" y="115.4" font-size="32">4+</text>
<text x="1434" y="152.6" font-size="50" style="font-family:'Noto Serif CJK SC','Liberation Serif',serif">&#8594;</text>
<text x="1512.7" y="146.2" font-size="54.3">W</text>
<text x="1564.7" y="115.4" font-size="32">5+</text>
<text x="1616.2" y="146.2" font-size="54.3">+</text>
<text x="1662.4" y="146.2" font-size="54.3">e</text>
<text x="1220.5" y="279.6" font-size="50">cross sections normalized</text>
<text x="1220.5" y="341.4" font-size="50">to 100 % at the maximum;</text>
<text x="1220.5" y="402" font-size="50" xml:space="preserve">energy spread:&#160; 200 meV</text>
<line x1="1220.8" y1="507.1" x2="1332.2" y2="507.1" stroke="#ff8000" stroke-width="2.7" stroke-linecap="round"/>
<line x1="1220.8" y1="701" x2="1332.2" y2="701" stroke="#800000" stroke-width="3.6" stroke-linecap="round"/>
<text x="1345.5" y="524.3" font-size="50">DARC 52-state cc</text>
<text x="1428.1" y="595.7" font-size="50">for 5d</text>
<text x="1556" y="567.7" font-size="28">2</text>
<text x="1586" y="567.7" font-size="28">2</text>
<text x="1603" y="595.7" font-size="50">D term</text>
<text x="1346.2" y="717.7" font-size="50">ALS experiment</text>
</svg></body></html>
